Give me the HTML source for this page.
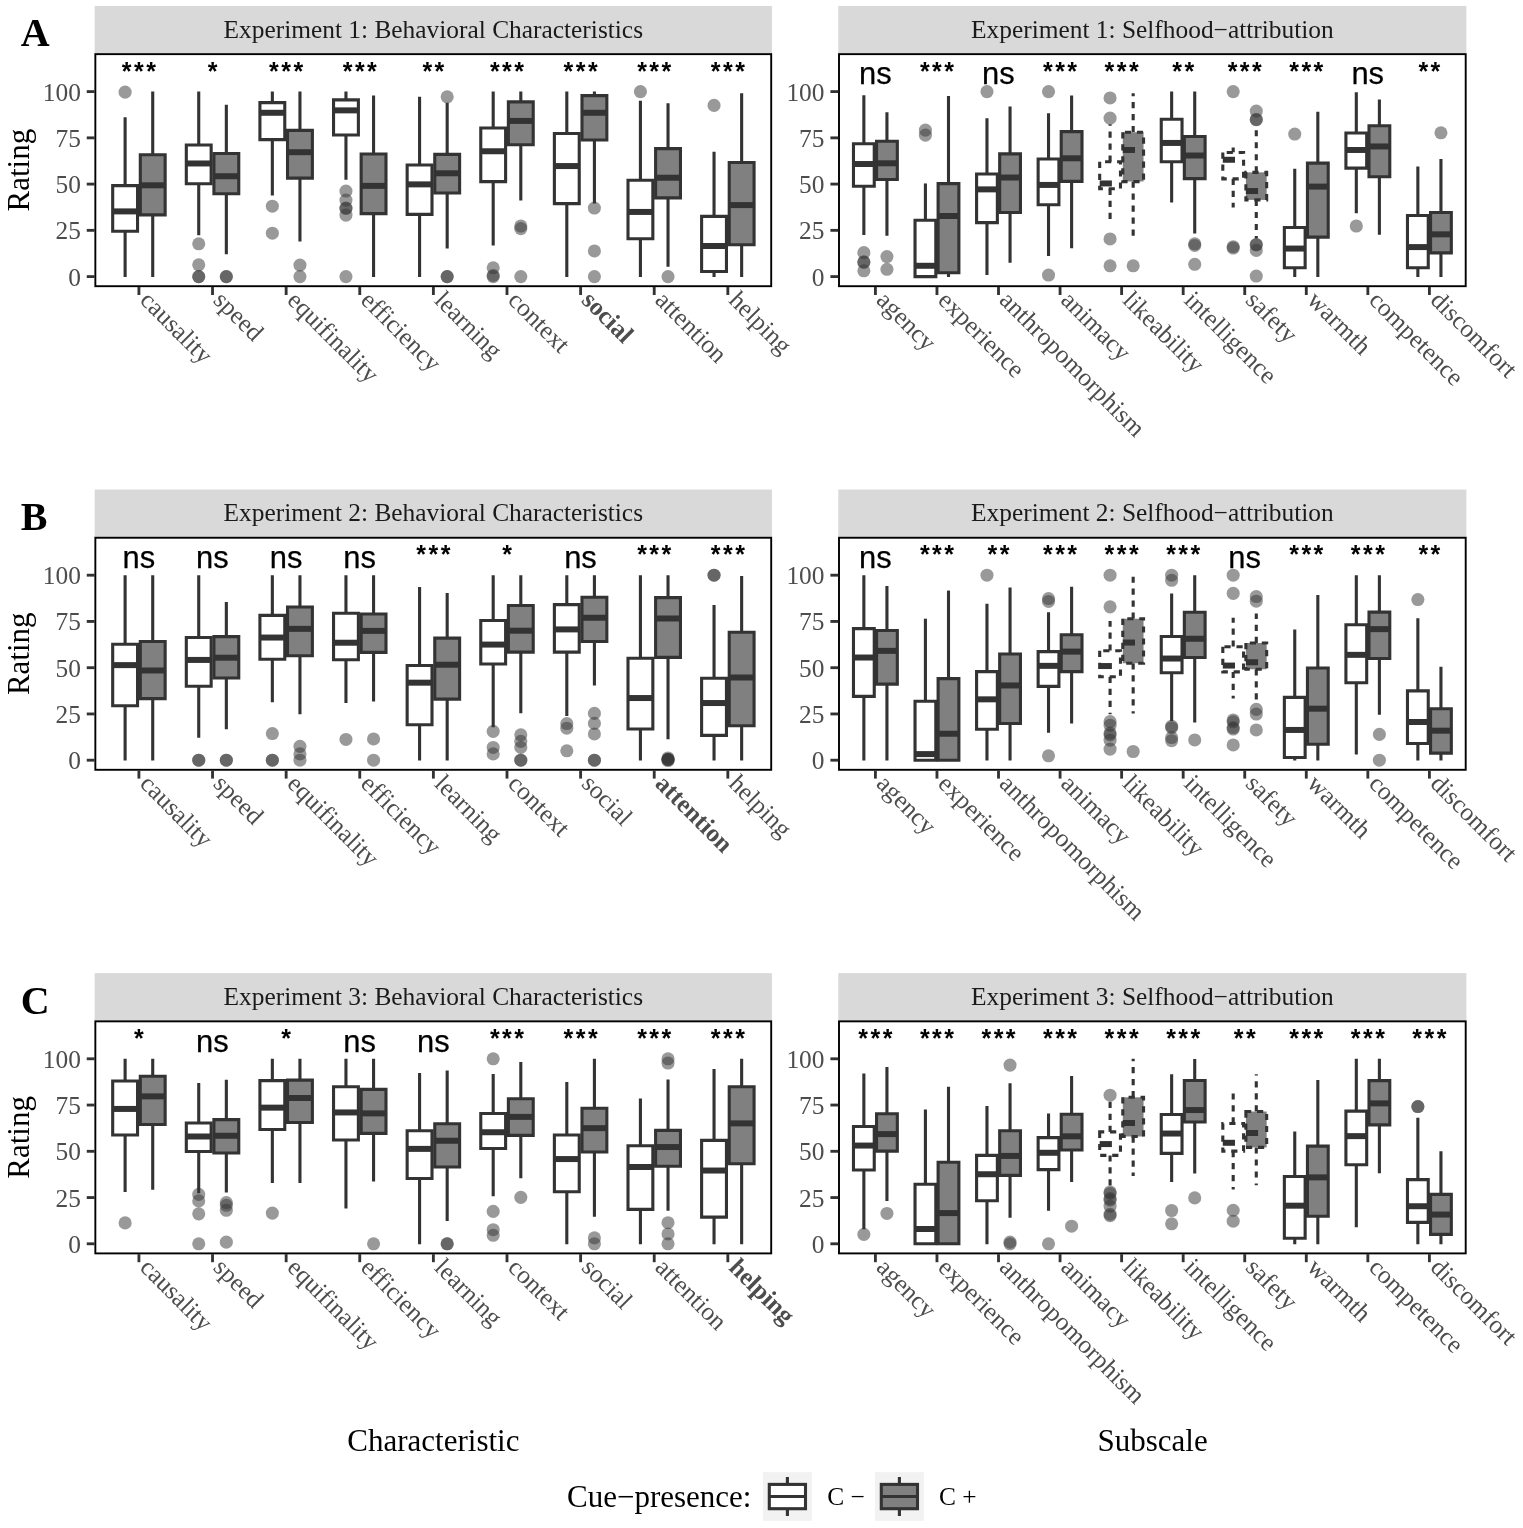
<!DOCTYPE html>
<html lang="en"><head><meta charset="utf-8"><title>Figure: ratings by cue-presence</title>
<style>
html,body{margin:0;padding:0;background:#fff;}
body{width:1523px;height:1528px;overflow:hidden;}
svg text{white-space:pre;}
</style></head><body>
<svg width="1523" height="1528" viewBox="0 0 1523 1528" style="display:block"><g id="A_left">
<rect x="94.65" y="5.95" width="677.25" height="48.2" fill="#d9d9d9"/>
<text x="433.28" y="37.7" text-anchor="middle" font-family="'Liberation Serif', 'DejaVu Serif', serif" font-size="25.4" fill="#1a1a1a">Experiment 1: Behavioral Characteristics</text>
<rect x="95.35" y="54.15" width="675.85" height="232.05" fill="#fff"/>
<circle cx="125.12" cy="92.16" r="6.55" fill="#333" fill-opacity="0.5"/><path d="M125.12 185.67V117.22M125.12 231.18V277" fill="none" stroke="#333333" stroke-width="3.1"/><path d="M112.69 185.67V231.18H137.54V185.67Z" fill="#ffffff" stroke="#333333" stroke-width="3.1" stroke-linejoin="miter"/><path d="M112.69 211.39H137.54" fill="none" stroke="#333333" stroke-width="6"/>
<path d="M152.72 154.78V91.6M152.72 214.9V277" fill="none" stroke="#333333" stroke-width="3.1"/><path d="M140.3 154.78V214.9H165.15V154.78Z" fill="#808080" stroke="#333333" stroke-width="3.1" stroke-linejoin="miter"/><path d="M140.3 185.3H165.15" fill="none" stroke="#333333" stroke-width="6"/>
<text x="140.14" y="79.55" text-anchor="middle" font-family="'Liberation Sans', 'DejaVu Sans', sans-serif" font-size="25" font-weight="bold" letter-spacing="2.45" fill="#000">***</text>
<circle cx="198.73" cy="243.76" r="6.55" fill="#333" fill-opacity="0.5"/><circle cx="198.73" cy="264.85" r="6.55" fill="#333" fill-opacity="0.5"/><circle cx="198.73" cy="276.6" r="6.55" fill="#333" fill-opacity="0.5"/><circle cx="198.73" cy="276.6" r="6.55" fill="#333" fill-opacity="0.5"/><path d="M198.73 144.97V91.6M198.73 183.82V235.28" fill="none" stroke="#333333" stroke-width="3.1"/><path d="M186.31 144.97V183.82H211.15V144.97Z" fill="#ffffff" stroke="#333333" stroke-width="3.1" stroke-linejoin="miter"/><path d="M186.31 163.47H211.15" fill="none" stroke="#333333" stroke-width="6"/>
<circle cx="226.34" cy="276.6" r="6.55" fill="#333" fill-opacity="0.5"/><circle cx="226.34" cy="276.6" r="6.55" fill="#333" fill-opacity="0.5"/><path d="M226.34 153.48V104.83M226.34 193.81V254.34" fill="none" stroke="#333333" stroke-width="3.1"/><path d="M213.92 153.48V193.81H238.76V153.48Z" fill="#808080" stroke="#333333" stroke-width="3.1" stroke-linejoin="miter"/><path d="M213.92 176.24H238.76" fill="none" stroke="#333333" stroke-width="6"/>
<text x="213.76" y="79.55" text-anchor="middle" font-family="'Liberation Sans', 'DejaVu Sans', sans-serif" font-size="25" font-weight="bold" letter-spacing="2.45" fill="#000">*</text>
<circle cx="272.35" cy="206.21" r="6.55" fill="#333" fill-opacity="0.5"/><circle cx="272.35" cy="233.22" r="6.55" fill="#333" fill-opacity="0.5"/><path d="M272.35 102.61V91.6M272.35 139.61V195.51" fill="none" stroke="#333333" stroke-width="3.1"/><path d="M259.92 102.61V139.61H284.77V102.61Z" fill="#ffffff" stroke="#333333" stroke-width="3.1" stroke-linejoin="miter"/><path d="M259.92 112.78H284.77" fill="none" stroke="#333333" stroke-width="6"/>
<circle cx="299.95" cy="265.04" r="6.55" fill="#333" fill-opacity="0.5"/><circle cx="299.95" cy="276.6" r="6.55" fill="#333" fill-opacity="0.5"/><path d="M299.95 130.36V91.6M299.95 178.09V241.57" fill="none" stroke="#333333" stroke-width="3.1"/><path d="M287.53 130.36V178.09H312.38V130.36Z" fill="#808080" stroke="#333333" stroke-width="3.1" stroke-linejoin="miter"/><path d="M287.53 152.19H312.38" fill="none" stroke="#333333" stroke-width="6"/>
<text x="287.37" y="79.55" text-anchor="middle" font-family="'Liberation Sans', 'DejaVu Sans', sans-serif" font-size="25" font-weight="bold" letter-spacing="2.45" fill="#000">***</text>
<circle cx="345.96" cy="191.04" r="6.55" fill="#333" fill-opacity="0.5"/><circle cx="345.96" cy="200.1" r="6.55" fill="#333" fill-opacity="0.5"/><circle cx="345.96" cy="208.06" r="6.55" fill="#333" fill-opacity="0.5"/><circle cx="345.96" cy="208.43" r="6.55" fill="#333" fill-opacity="0.5"/><circle cx="345.96" cy="215.09" r="6.55" fill="#333" fill-opacity="0.5"/><circle cx="345.96" cy="276.6" r="6.55" fill="#333" fill-opacity="0.5"/><path d="M345.96 99.83V91.6M345.96 134.98V179.78" fill="none" stroke="#333333" stroke-width="3.1"/><path d="M333.54 99.83V134.98H358.38V99.83Z" fill="#ffffff" stroke="#333333" stroke-width="3.1" stroke-linejoin="miter"/><path d="M333.54 110.38H358.38" fill="none" stroke="#333333" stroke-width="6"/>
<path d="M373.57 154.04V95.58M373.57 213.61V277" fill="none" stroke="#333333" stroke-width="3.1"/><path d="M361.15 154.04V213.61H385.99V154.04Z" fill="#808080" stroke="#333333" stroke-width="3.1" stroke-linejoin="miter"/><path d="M361.15 185.86H385.99" fill="none" stroke="#333333" stroke-width="6"/>
<text x="360.99" y="79.55" text-anchor="middle" font-family="'Liberation Sans', 'DejaVu Sans', sans-serif" font-size="25" font-weight="bold" letter-spacing="2.45" fill="#000">***</text>
<path d="M419.58 164.95V96.87M419.58 214.35V277" fill="none" stroke="#333333" stroke-width="3.1"/><path d="M407.15 164.95V214.35H432V164.95Z" fill="#ffffff" stroke="#333333" stroke-width="3.1" stroke-linejoin="miter"/><path d="M407.15 184.38H432" fill="none" stroke="#333333" stroke-width="6"/>
<circle cx="447.18" cy="96.87" r="6.55" fill="#333" fill-opacity="0.5"/><circle cx="447.18" cy="276.6" r="6.55" fill="#333" fill-opacity="0.5"/><circle cx="447.18" cy="276.6" r="6.55" fill="#333" fill-opacity="0.5"/><path d="M447.18 154.41V102.79M447.18 193.07V248.6" fill="none" stroke="#333333" stroke-width="3.1"/><path d="M434.76 154.41V193.07H459.61V154.41Z" fill="#808080" stroke="#333333" stroke-width="3.1" stroke-linejoin="miter"/><path d="M434.76 173.28H459.61" fill="none" stroke="#333333" stroke-width="6"/>
<text x="434.6" y="79.55" text-anchor="middle" font-family="'Liberation Sans', 'DejaVu Sans', sans-serif" font-size="25" font-weight="bold" letter-spacing="2.45" fill="#000">**</text>
<circle cx="493.19" cy="267.81" r="6.55" fill="#333" fill-opacity="0.5"/><circle cx="493.19" cy="275.49" r="6.55" fill="#333" fill-opacity="0.5"/><circle cx="493.19" cy="276.6" r="6.55" fill="#333" fill-opacity="0.5"/><path d="M493.19 127.95V91.6M493.19 181.6V245.46" fill="none" stroke="#333333" stroke-width="3.1"/><path d="M480.77 127.95V181.6H505.61V127.95Z" fill="#ffffff" stroke="#333333" stroke-width="3.1" stroke-linejoin="miter"/><path d="M480.77 151.26H505.61" fill="none" stroke="#333333" stroke-width="6"/>
<circle cx="520.8" cy="226" r="6.55" fill="#333" fill-opacity="0.5"/><circle cx="520.8" cy="228.59" r="6.55" fill="#333" fill-opacity="0.5"/><circle cx="520.8" cy="276.6" r="6.55" fill="#333" fill-opacity="0.5"/><path d="M520.8 101.87V91.6M520.8 144.79V200.5" fill="none" stroke="#333333" stroke-width="3.1"/><path d="M508.38 101.87V144.79H533.22V101.87Z" fill="#808080" stroke="#333333" stroke-width="3.1" stroke-linejoin="miter"/><path d="M508.38 120.92H533.22" fill="none" stroke="#333333" stroke-width="6"/>
<text x="508.22" y="79.55" text-anchor="middle" font-family="'Liberation Sans', 'DejaVu Sans', sans-serif" font-size="25" font-weight="bold" letter-spacing="2.45" fill="#000">***</text>
<path d="M566.81 133.5V91.6M566.81 203.62V277" fill="none" stroke="#333333" stroke-width="3.1"/><path d="M554.38 133.5V203.62H579.23V133.5Z" fill="#ffffff" stroke="#333333" stroke-width="3.1" stroke-linejoin="miter"/><path d="M554.38 166.06H579.23" fill="none" stroke="#333333" stroke-width="6"/>
<circle cx="594.41" cy="208.06" r="6.55" fill="#333" fill-opacity="0.5"/><circle cx="594.41" cy="250.98" r="6.55" fill="#333" fill-opacity="0.5"/><circle cx="594.41" cy="276.6" r="6.55" fill="#333" fill-opacity="0.5"/><path d="M594.41 95.58V91.6M594.41 139.98V203.46" fill="none" stroke="#333333" stroke-width="3.1"/><path d="M581.99 95.58V139.98H606.84V95.58Z" fill="#808080" stroke="#333333" stroke-width="3.1" stroke-linejoin="miter"/><path d="M581.99 112.78H606.84" fill="none" stroke="#333333" stroke-width="6"/>
<text x="581.83" y="79.55" text-anchor="middle" font-family="'Liberation Sans', 'DejaVu Sans', sans-serif" font-size="25" font-weight="bold" letter-spacing="2.45" fill="#000">***</text>
<circle cx="640.42" cy="91.6" r="6.55" fill="#333" fill-opacity="0.5"/><path d="M640.42 180.31V100.76M640.42 238.77V277" fill="none" stroke="#333333" stroke-width="3.1"/><path d="M628 180.31V238.77H652.84V180.31Z" fill="#ffffff" stroke="#333333" stroke-width="3.1" stroke-linejoin="miter"/><path d="M628 211.94H652.84" fill="none" stroke="#333333" stroke-width="6"/>
<circle cx="668.03" cy="276.6" r="6.55" fill="#333" fill-opacity="0.5"/><path d="M668.03 148.67V103.16M668.03 197.88V266.73" fill="none" stroke="#333333" stroke-width="3.1"/><path d="M655.61 148.67V197.88H680.45V148.67Z" fill="#808080" stroke="#333333" stroke-width="3.1" stroke-linejoin="miter"/><path d="M655.61 177.72H680.45" fill="none" stroke="#333333" stroke-width="6"/>
<text x="655.45" y="79.55" text-anchor="middle" font-family="'Liberation Sans', 'DejaVu Sans', sans-serif" font-size="25" font-weight="bold" letter-spacing="2.45" fill="#000">***</text>
<circle cx="714.04" cy="105.38" r="6.55" fill="#333" fill-opacity="0.5"/><path d="M714.04 216.38V151.63M714.04 271.51V277" fill="none" stroke="#333333" stroke-width="3.1"/><path d="M701.61 216.38V271.51H726.46V216.38Z" fill="#ffffff" stroke="#333333" stroke-width="3.1" stroke-linejoin="miter"/><path d="M701.61 245.98H726.46" fill="none" stroke="#333333" stroke-width="6"/>
<path d="M741.64 162.55V93.36M741.64 244.69V277" fill="none" stroke="#333333" stroke-width="3.1"/><path d="M729.22 162.55V244.69H754.07V162.55Z" fill="#808080" stroke="#333333" stroke-width="3.1" stroke-linejoin="miter"/><path d="M729.22 205.1H754.07" fill="none" stroke="#333333" stroke-width="6"/>
<text x="729.06" y="79.55" text-anchor="middle" font-family="'Liberation Sans', 'DejaVu Sans', sans-serif" font-size="25" font-weight="bold" letter-spacing="2.45" fill="#000">***</text>
<rect x="95.35" y="54.15" width="675.85" height="232.05" fill="none" stroke="#000" stroke-width="1.9"/>
<path d="M86.75 276.6H94.65" stroke="#333333" stroke-width="2.85"/>
<text x="80.85" y="285.6" text-anchor="end" font-family="'Liberation Serif', 'DejaVu Serif', serif" font-size="25.4" fill="#4d4d4d">0</text>
<path d="M86.75 230.35H94.65" stroke="#333333" stroke-width="2.85"/>
<text x="80.85" y="239.35" text-anchor="end" font-family="'Liberation Serif', 'DejaVu Serif', serif" font-size="25.4" fill="#4d4d4d">25</text>
<path d="M86.75 184.1H94.65" stroke="#333333" stroke-width="2.85"/>
<text x="80.85" y="193.1" text-anchor="end" font-family="'Liberation Serif', 'DejaVu Serif', serif" font-size="25.4" fill="#4d4d4d">50</text>
<path d="M86.75 137.85H94.65" stroke="#333333" stroke-width="2.85"/>
<text x="80.85" y="146.85" text-anchor="end" font-family="'Liberation Serif', 'DejaVu Serif', serif" font-size="25.4" fill="#4d4d4d">75</text>
<path d="M86.75 91.6H94.65" stroke="#333333" stroke-width="2.85"/>
<text x="80.85" y="100.6" text-anchor="end" font-family="'Liberation Serif', 'DejaVu Serif', serif" font-size="25.4" fill="#4d4d4d">100</text>
<path d="M138.92 286.9V295" stroke="#333333" stroke-width="2.85"/>
<text transform="translate(138.72 301.5) rotate(45)" font-family="'Liberation Serif', 'DejaVu Serif', serif" font-size="25.4" fill="#4d4d4d">causality</text>
<path d="M212.53 286.9V295" stroke="#333333" stroke-width="2.85"/>
<text transform="translate(212.33 301.5) rotate(45)" font-family="'Liberation Serif', 'DejaVu Serif', serif" font-size="25.4" fill="#4d4d4d">speed</text>
<path d="M286.15 286.9V295" stroke="#333333" stroke-width="2.85"/>
<text transform="translate(285.95 301.5) rotate(45)" font-family="'Liberation Serif', 'DejaVu Serif', serif" font-size="25.4" fill="#4d4d4d">equifinality</text>
<path d="M359.76 286.9V295" stroke="#333333" stroke-width="2.85"/>
<text transform="translate(359.56 301.5) rotate(45)" font-family="'Liberation Serif', 'DejaVu Serif', serif" font-size="25.4" fill="#4d4d4d">efficiency</text>
<path d="M433.38 286.9V295" stroke="#333333" stroke-width="2.85"/>
<text transform="translate(433.18 301.5) rotate(45)" font-family="'Liberation Serif', 'DejaVu Serif', serif" font-size="25.4" fill="#4d4d4d">learning</text>
<path d="M507 286.9V295" stroke="#333333" stroke-width="2.85"/>
<text transform="translate(506.8 301.5) rotate(45)" font-family="'Liberation Serif', 'DejaVu Serif', serif" font-size="25.4" fill="#4d4d4d">context</text>
<path d="M580.61 286.9V295" stroke="#333333" stroke-width="2.85"/>
<text transform="translate(580.41 301.5) rotate(45)" font-family="'Liberation Serif', 'DejaVu Serif', serif" font-size="25.4" fill="#4d4d4d" font-weight="bold">social</text>
<path d="M654.22 286.9V295" stroke="#333333" stroke-width="2.85"/>
<text transform="translate(654.02 301.5) rotate(45)" font-family="'Liberation Serif', 'DejaVu Serif', serif" font-size="25.4" fill="#4d4d4d">attention</text>
<path d="M727.84 286.9V295" stroke="#333333" stroke-width="2.85"/>
<text transform="translate(727.64 301.5) rotate(45)" font-family="'Liberation Serif', 'DejaVu Serif', serif" font-size="25.4" fill="#4d4d4d">helping</text>
<text transform="translate(28.6 170.18) rotate(-90)" text-anchor="middle" font-family="'Liberation Serif', 'DejaVu Serif', serif" font-size="31" fill="#000">Rating</text>
<text x="20.7" y="45.95" font-family="'Liberation Serif', 'DejaVu Serif', serif" font-size="40" font-weight="bold" fill="#000">A</text>
</g>
<g id="A_right">
<rect x="838.3" y="5.95" width="628.1" height="48.2" fill="#d9d9d9"/>
<text x="1152.35" y="37.7" text-anchor="middle" font-family="'Liberation Serif', 'DejaVu Serif', serif" font-size="25.4" fill="#1a1a1a">Experiment 1: Selfhood−attribution</text>
<rect x="839" y="54.15" width="626.7" height="232.05" fill="#fff"/>
<circle cx="863.86" cy="252.64" r="6.55" fill="#333" fill-opacity="0.5"/><circle cx="863.86" cy="261.89" r="6.55" fill="#333" fill-opacity="0.5"/><circle cx="863.86" cy="262.26" r="6.55" fill="#333" fill-opacity="0.5"/><circle cx="863.86" cy="270.77" r="6.55" fill="#333" fill-opacity="0.5"/><path d="M863.86 143.68V95.21M863.86 186.23V235.1" fill="none" stroke="#333333" stroke-width="3.1"/><path d="M853.47 143.68V186.23H874.25V143.68Z" fill="#ffffff" stroke="#333333" stroke-width="3.1" stroke-linejoin="miter"/><path d="M853.47 164.03H874.25" fill="none" stroke="#333333" stroke-width="6"/>
<circle cx="886.94" cy="256.53" r="6.55" fill="#333" fill-opacity="0.5"/><circle cx="886.94" cy="269.29" r="6.55" fill="#333" fill-opacity="0.5"/><path d="M886.94 141.27V112.23M886.94 179.57V235.84" fill="none" stroke="#333333" stroke-width="3.1"/><path d="M876.55 141.27V179.57H897.33V141.27Z" fill="#808080" stroke="#333333" stroke-width="3.1" stroke-linejoin="miter"/><path d="M876.55 163.29H897.33" fill="none" stroke="#333333" stroke-width="6"/>
<text x="875.3" y="84.45" text-anchor="middle" font-family="'Liberation Sans', 'DejaVu Sans', sans-serif" font-size="30.9" fill="#000" stroke="#000" stroke-width="0.25">ns</text>
<circle cx="925.41" cy="130.17" r="6.55" fill="#333" fill-opacity="0.5"/><circle cx="925.41" cy="135.17" r="6.55" fill="#333" fill-opacity="0.5"/><path d="M925.41 220.27V183.45M925.41 276.6V276.6" fill="none" stroke="#333333" stroke-width="3.1"/><path d="M915.03 220.27V276.6H935.8V220.27Z" fill="#ffffff" stroke="#333333" stroke-width="3.1" stroke-linejoin="miter"/><path d="M915.03 265.78H935.8" fill="none" stroke="#333333" stroke-width="6"/>
<path d="M948.5 183.64V95.95M948.5 272.81V277" fill="none" stroke="#333333" stroke-width="3.1"/><path d="M938.11 183.64V272.81H958.89V183.64Z" fill="#808080" stroke="#333333" stroke-width="3.1" stroke-linejoin="miter"/><path d="M938.11 216.01H958.89" fill="none" stroke="#333333" stroke-width="6"/>
<text x="938.18" y="79.55" text-anchor="middle" font-family="'Liberation Sans', 'DejaVu Sans', sans-serif" font-size="25" font-weight="bold" letter-spacing="2.45" fill="#000">***</text>
<circle cx="986.97" cy="91.6" r="6.55" fill="#333" fill-opacity="0.5"/><path d="M986.97 174.02V118.15M986.97 222.67V275.06" fill="none" stroke="#333333" stroke-width="3.1"/><path d="M976.58 174.02V222.67H997.36V174.02Z" fill="#ffffff" stroke="#333333" stroke-width="3.1" stroke-linejoin="miter"/><path d="M976.58 189.37H997.36" fill="none" stroke="#333333" stroke-width="6"/>
<path d="M1010.05 153.85V106.49M1010.05 212.5V262.66" fill="none" stroke="#333333" stroke-width="3.1"/><path d="M999.67 153.85V212.5H1020.44V153.85Z" fill="#808080" stroke="#333333" stroke-width="3.1" stroke-linejoin="miter"/><path d="M999.67 177.53H1020.44" fill="none" stroke="#333333" stroke-width="6"/>
<text x="998.41" y="84.45" text-anchor="middle" font-family="'Liberation Sans', 'DejaVu Sans', sans-serif" font-size="30.9" fill="#000" stroke="#000" stroke-width="0.25">ns</text>
<circle cx="1048.53" cy="91.6" r="6.55" fill="#333" fill-opacity="0.5"/><circle cx="1048.53" cy="275.03" r="6.55" fill="#333" fill-opacity="0.5"/><path d="M1048.53 159.03V113.15M1048.53 204.73V256" fill="none" stroke="#333333" stroke-width="3.1"/><path d="M1038.14 159.03V204.73H1058.91V159.03Z" fill="#ffffff" stroke="#333333" stroke-width="3.1" stroke-linejoin="miter"/><path d="M1038.14 184.93H1058.91" fill="none" stroke="#333333" stroke-width="6"/>
<path d="M1071.61 131.65V95.58M1071.61 181.42V248.23" fill="none" stroke="#333333" stroke-width="3.1"/><path d="M1061.22 131.65V181.42H1082V131.65Z" fill="#808080" stroke="#333333" stroke-width="3.1" stroke-linejoin="miter"/><path d="M1061.22 158.29H1082" fill="none" stroke="#333333" stroke-width="6"/>
<text x="1061.29" y="79.55" text-anchor="middle" font-family="'Liberation Sans', 'DejaVu Sans', sans-serif" font-size="25" font-weight="bold" letter-spacing="2.45" fill="#000">***</text>
<circle cx="1110.08" cy="97.98" r="6.55" fill="#333" fill-opacity="0.5"/><circle cx="1110.08" cy="118.15" r="6.55" fill="#333" fill-opacity="0.5"/><circle cx="1110.08" cy="238.95" r="6.55" fill="#333" fill-opacity="0.5"/><circle cx="1110.08" cy="265.78" r="6.55" fill="#333" fill-opacity="0.5"/><path d="M1110.08 161.81V124.25M1110.08 188.82V220.11" fill="none" stroke="#333333" stroke-width="3.1" stroke-dasharray="6.2 5.8"/><path d="M1099.69 161.81V188.82H1120.47V161.81Z" fill="#ffffff" stroke="#333333" stroke-width="3.1" stroke-linejoin="miter" stroke-dasharray="6.2 5.8"/><path d="M1099.69 183.45H1120.47" fill="none" stroke="#333333" stroke-width="6" stroke-dasharray="12.2 11.8"/>
<circle cx="1133.17" cy="265.78" r="6.55" fill="#333" fill-opacity="0.5"/><path d="M1133.17 132.21V93.36M1133.17 181.6V236.58" fill="none" stroke="#333333" stroke-width="3.1" stroke-dasharray="6.2 5.8"/><path d="M1122.78 132.21V181.6H1143.55V132.21Z" fill="#808080" stroke="#333333" stroke-width="3.1" stroke-linejoin="miter" stroke-dasharray="6.2 5.8"/><path d="M1122.78 149.97H1143.55" fill="none" stroke="#333333" stroke-width="6" stroke-dasharray="12.2 11.8"/>
<text x="1122.85" y="79.55" text-anchor="middle" font-family="'Liberation Sans', 'DejaVu Sans', sans-serif" font-size="25" font-weight="bold" letter-spacing="2.45" fill="#000">***</text>
<path d="M1171.64 119.26V91.6M1171.64 161.81V202.54" fill="none" stroke="#333333" stroke-width="3.1"/><path d="M1161.25 119.26V161.81H1182.03V119.26Z" fill="#ffffff" stroke="#333333" stroke-width="3.1" stroke-linejoin="miter"/><path d="M1161.25 142.94H1182.03" fill="none" stroke="#333333" stroke-width="6"/>
<circle cx="1194.72" cy="243.76" r="6.55" fill="#333" fill-opacity="0.5"/><circle cx="1194.72" cy="245.43" r="6.55" fill="#333" fill-opacity="0.5"/><circle cx="1194.72" cy="264.3" r="6.55" fill="#333" fill-opacity="0.5"/><path d="M1194.72 136.46V91.6M1194.72 178.64V233.62" fill="none" stroke="#333333" stroke-width="3.1"/><path d="M1184.33 136.46V178.64H1205.11V136.46Z" fill="#808080" stroke="#333333" stroke-width="3.1" stroke-linejoin="miter"/><path d="M1184.33 155.52H1205.11" fill="none" stroke="#333333" stroke-width="6"/>
<text x="1184.4" y="79.55" text-anchor="middle" font-family="'Liberation Sans', 'DejaVu Sans', sans-serif" font-size="25" font-weight="bold" letter-spacing="2.45" fill="#000">**</text>
<circle cx="1233.19" cy="91.6" r="6.55" fill="#333" fill-opacity="0.5"/><circle cx="1233.19" cy="246.72" r="6.55" fill="#333" fill-opacity="0.5"/><circle cx="1233.19" cy="248.02" r="6.55" fill="#333" fill-opacity="0.5"/><path d="M1233.19 152.56V147.38M1233.19 178.83V207.53" fill="none" stroke="#333333" stroke-width="3.1" stroke-dasharray="6.2 5.8"/><path d="M1222.81 152.56V178.83H1243.58V152.56Z" fill="#ffffff" stroke="#333333" stroke-width="3.1" stroke-linejoin="miter" stroke-dasharray="6.2 5.8"/><path d="M1222.81 159.77H1243.58" fill="none" stroke="#333333" stroke-width="6" stroke-dasharray="12.2 11.8"/>
<circle cx="1256.28" cy="111.12" r="6.55" fill="#333" fill-opacity="0.5"/><circle cx="1256.28" cy="119.44" r="6.55" fill="#333" fill-opacity="0.5"/><circle cx="1256.28" cy="119.81" r="6.55" fill="#333" fill-opacity="0.5"/><circle cx="1256.28" cy="244.5" r="6.55" fill="#333" fill-opacity="0.5"/><circle cx="1256.28" cy="244.87" r="6.55" fill="#333" fill-opacity="0.5"/><circle cx="1256.28" cy="250.42" r="6.55" fill="#333" fill-opacity="0.5"/><circle cx="1256.28" cy="276.05" r="6.55" fill="#333" fill-opacity="0.5"/><path d="M1256.28 172.35V129.62M1256.28 199.92V238.43" fill="none" stroke="#333333" stroke-width="3.1" stroke-dasharray="6.2 5.8"/><path d="M1245.89 172.35V199.92H1266.67V172.35Z" fill="#808080" stroke="#333333" stroke-width="3.1" stroke-linejoin="miter" stroke-dasharray="6.2 5.8"/><path d="M1245.89 191.04H1266.67" fill="none" stroke="#333333" stroke-width="6" stroke-dasharray="12.2 11.8"/>
<text x="1245.96" y="79.55" text-anchor="middle" font-family="'Liberation Sans', 'DejaVu Sans', sans-serif" font-size="25" font-weight="bold" letter-spacing="2.45" fill="#000">***</text>
<circle cx="1294.75" cy="134.06" r="6.55" fill="#333" fill-opacity="0.5"/><path d="M1294.75 227.48V168.84M1294.75 267.81V277" fill="none" stroke="#333333" stroke-width="3.1"/><path d="M1284.36 227.48V267.81H1305.14V227.48Z" fill="#ffffff" stroke="#333333" stroke-width="3.1" stroke-linejoin="miter"/><path d="M1284.36 248.57H1305.14" fill="none" stroke="#333333" stroke-width="6"/>
<path d="M1317.83 163.1V111.67M1317.83 237.1V277" fill="none" stroke="#333333" stroke-width="3.1"/><path d="M1307.45 163.1V237.1H1328.22V163.1Z" fill="#808080" stroke="#333333" stroke-width="3.1" stroke-linejoin="miter"/><path d="M1307.45 186.6H1328.22" fill="none" stroke="#333333" stroke-width="6"/>
<text x="1307.51" y="79.55" text-anchor="middle" font-family="'Liberation Sans', 'DejaVu Sans', sans-serif" font-size="25" font-weight="bold" letter-spacing="2.45" fill="#000">***</text>
<circle cx="1356.31" cy="226" r="6.55" fill="#333" fill-opacity="0.5"/><path d="M1356.31 132.95V92.34M1356.31 168.1V213.27" fill="none" stroke="#333333" stroke-width="3.1"/><path d="M1345.92 132.95V168.1H1366.69V132.95Z" fill="#ffffff" stroke="#333333" stroke-width="3.1" stroke-linejoin="miter"/><path d="M1345.92 149.97H1366.69" fill="none" stroke="#333333" stroke-width="6"/>
<path d="M1379.39 125.73V99.46M1379.39 176.79V234.73" fill="none" stroke="#333333" stroke-width="3.1"/><path d="M1369 125.73V176.79H1389.78V125.73Z" fill="#808080" stroke="#333333" stroke-width="3.1" stroke-linejoin="miter"/><path d="M1369 146.45H1389.78" fill="none" stroke="#333333" stroke-width="6"/>
<text x="1367.75" y="84.45" text-anchor="middle" font-family="'Liberation Sans', 'DejaVu Sans', sans-serif" font-size="30.9" fill="#000" stroke="#000" stroke-width="0.25">ns</text>
<path d="M1417.86 215.46V166.62M1417.86 267.81V277" fill="none" stroke="#333333" stroke-width="3.1"/><path d="M1407.47 215.46V267.81H1428.25V215.46Z" fill="#ffffff" stroke="#333333" stroke-width="3.1" stroke-linejoin="miter"/><path d="M1407.47 247.09H1428.25" fill="none" stroke="#333333" stroke-width="6"/>
<circle cx="1440.95" cy="132.76" r="6.55" fill="#333" fill-opacity="0.5"/><path d="M1440.95 212.5V159.03M1440.95 252.83V277" fill="none" stroke="#333333" stroke-width="3.1"/><path d="M1430.56 212.5V252.83H1451.33V212.5Z" fill="#808080" stroke="#333333" stroke-width="3.1" stroke-linejoin="miter"/><path d="M1430.56 234.33H1451.33" fill="none" stroke="#333333" stroke-width="6"/>
<text x="1430.63" y="79.55" text-anchor="middle" font-family="'Liberation Sans', 'DejaVu Sans', sans-serif" font-size="25" font-weight="bold" letter-spacing="2.45" fill="#000">**</text>
<rect x="839" y="54.15" width="626.7" height="232.05" fill="none" stroke="#000" stroke-width="1.9"/>
<path d="M830.4 276.6H838.3" stroke="#333333" stroke-width="2.85"/>
<text x="824.5" y="285.6" text-anchor="end" font-family="'Liberation Serif', 'DejaVu Serif', serif" font-size="25.4" fill="#4d4d4d">0</text>
<path d="M830.4 230.35H838.3" stroke="#333333" stroke-width="2.85"/>
<text x="824.5" y="239.35" text-anchor="end" font-family="'Liberation Serif', 'DejaVu Serif', serif" font-size="25.4" fill="#4d4d4d">25</text>
<path d="M830.4 184.1H838.3" stroke="#333333" stroke-width="2.85"/>
<text x="824.5" y="193.1" text-anchor="end" font-family="'Liberation Serif', 'DejaVu Serif', serif" font-size="25.4" fill="#4d4d4d">50</text>
<path d="M830.4 137.85H838.3" stroke="#333333" stroke-width="2.85"/>
<text x="824.5" y="146.85" text-anchor="end" font-family="'Liberation Serif', 'DejaVu Serif', serif" font-size="25.4" fill="#4d4d4d">75</text>
<path d="M830.4 91.6H838.3" stroke="#333333" stroke-width="2.85"/>
<text x="824.5" y="100.6" text-anchor="end" font-family="'Liberation Serif', 'DejaVu Serif', serif" font-size="25.4" fill="#4d4d4d">100</text>
<path d="M875.4 286.9V295" stroke="#333333" stroke-width="2.85"/>
<text transform="translate(875.2 301.5) rotate(45)" font-family="'Liberation Serif', 'DejaVu Serif', serif" font-size="25.4" fill="#4d4d4d">agency</text>
<path d="M936.96 286.9V295" stroke="#333333" stroke-width="2.85"/>
<text transform="translate(936.76 301.5) rotate(45)" font-family="'Liberation Serif', 'DejaVu Serif', serif" font-size="25.4" fill="#4d4d4d">experience</text>
<path d="M998.51 286.9V295" stroke="#333333" stroke-width="2.85"/>
<text transform="translate(998.31 301.5) rotate(45)" font-family="'Liberation Serif', 'DejaVu Serif', serif" font-size="25.4" fill="#4d4d4d">anthropomorphism</text>
<path d="M1060.07 286.9V295" stroke="#333333" stroke-width="2.85"/>
<text transform="translate(1059.87 301.5) rotate(45)" font-family="'Liberation Serif', 'DejaVu Serif', serif" font-size="25.4" fill="#4d4d4d">animacy</text>
<path d="M1121.62 286.9V295" stroke="#333333" stroke-width="2.85"/>
<text transform="translate(1121.42 301.5) rotate(45)" font-family="'Liberation Serif', 'DejaVu Serif', serif" font-size="25.4" fill="#4d4d4d">likeability</text>
<path d="M1183.18 286.9V295" stroke="#333333" stroke-width="2.85"/>
<text transform="translate(1182.98 301.5) rotate(45)" font-family="'Liberation Serif', 'DejaVu Serif', serif" font-size="25.4" fill="#4d4d4d">intelligence</text>
<path d="M1244.74 286.9V295" stroke="#333333" stroke-width="2.85"/>
<text transform="translate(1244.54 301.5) rotate(45)" font-family="'Liberation Serif', 'DejaVu Serif', serif" font-size="25.4" fill="#4d4d4d">safety</text>
<path d="M1306.29 286.9V295" stroke="#333333" stroke-width="2.85"/>
<text transform="translate(1306.09 301.5) rotate(45)" font-family="'Liberation Serif', 'DejaVu Serif', serif" font-size="25.4" fill="#4d4d4d">warmth</text>
<path d="M1367.85 286.9V295" stroke="#333333" stroke-width="2.85"/>
<text transform="translate(1367.65 301.5) rotate(45)" font-family="'Liberation Serif', 'DejaVu Serif', serif" font-size="25.4" fill="#4d4d4d">competence</text>
<path d="M1429.4 286.9V295" stroke="#333333" stroke-width="2.85"/>
<text transform="translate(1429.2 301.5) rotate(45)" font-family="'Liberation Serif', 'DejaVu Serif', serif" font-size="25.4" fill="#4d4d4d">discomfort</text>
</g>
<g id="B_left">
<rect x="94.65" y="489.55" width="677.25" height="48.2" fill="#d9d9d9"/>
<text x="433.28" y="521.3" text-anchor="middle" font-family="'Liberation Serif', 'DejaVu Serif', serif" font-size="25.4" fill="#1a1a1a">Experiment 2: Behavioral Characteristics</text>
<rect x="95.35" y="537.75" width="675.85" height="232.05" fill="#fff"/>
<path d="M125.12 644.21V575.2M125.12 705.81V760.6" fill="none" stroke="#333333" stroke-width="3.1"/><path d="M112.69 644.21V705.81H137.54V644.21Z" fill="#ffffff" stroke="#333333" stroke-width="3.1" stroke-linejoin="miter"/><path d="M112.69 665.11H137.54" fill="none" stroke="#333333" stroke-width="6"/>
<path d="M152.72 641.43V575.2M152.72 698.6V760.6" fill="none" stroke="#333333" stroke-width="3.1"/><path d="M140.3 641.43V698.6H165.15V641.43Z" fill="#808080" stroke="#333333" stroke-width="3.1" stroke-linejoin="miter"/><path d="M140.3 670.48H165.15" fill="none" stroke="#333333" stroke-width="6"/>
<text x="138.82" y="568.05" text-anchor="middle" font-family="'Liberation Sans', 'DejaVu Sans', sans-serif" font-size="30.9" fill="#000" stroke="#000" stroke-width="0.25">ns</text>
<circle cx="198.73" cy="760.2" r="6.55" fill="#333" fill-opacity="0.5"/><circle cx="198.73" cy="760.2" r="6.55" fill="#333" fill-opacity="0.5"/><path d="M198.73 637.55V575.2M198.73 686.2V737.85" fill="none" stroke="#333333" stroke-width="3.1"/><path d="M186.31 637.55V686.2H211.15V637.55Z" fill="#ffffff" stroke="#333333" stroke-width="3.1" stroke-linejoin="miter"/><path d="M186.31 659.93H211.15" fill="none" stroke="#333333" stroke-width="6"/>
<circle cx="226.34" cy="760.2" r="6.55" fill="#333" fill-opacity="0.5"/><circle cx="226.34" cy="760.2" r="6.55" fill="#333" fill-opacity="0.5"/><path d="M226.34 636.62V602.03M226.34 678.06V729.15" fill="none" stroke="#333333" stroke-width="3.1"/><path d="M213.92 636.62V678.06H238.76V636.62Z" fill="#808080" stroke="#333333" stroke-width="3.1" stroke-linejoin="miter"/><path d="M213.92 657.71H238.76" fill="none" stroke="#333333" stroke-width="6"/>
<text x="212.43" y="568.05" text-anchor="middle" font-family="'Liberation Sans', 'DejaVu Sans', sans-serif" font-size="30.9" fill="#000" stroke="#000" stroke-width="0.25">ns</text>
<circle cx="272.35" cy="733.56" r="6.55" fill="#333" fill-opacity="0.5"/><circle cx="272.35" cy="760.2" r="6.55" fill="#333" fill-opacity="0.5"/><circle cx="272.35" cy="760.2" r="6.55" fill="#333" fill-opacity="0.5"/><path d="M272.35 615.35V575.2M272.35 659.19V702.14" fill="none" stroke="#333333" stroke-width="3.1"/><path d="M259.92 615.35V659.19H284.77V615.35Z" fill="#ffffff" stroke="#333333" stroke-width="3.1" stroke-linejoin="miter"/><path d="M259.92 637.55H284.77" fill="none" stroke="#333333" stroke-width="6"/>
<circle cx="299.95" cy="746.33" r="6.55" fill="#333" fill-opacity="0.5"/><circle cx="299.95" cy="753.91" r="6.55" fill="#333" fill-opacity="0.5"/><circle cx="299.95" cy="760.2" r="6.55" fill="#333" fill-opacity="0.5"/><path d="M299.95 607.02V575.2M299.95 655.68V714.35" fill="none" stroke="#333333" stroke-width="3.1"/><path d="M287.53 607.02V655.68H312.38V607.02Z" fill="#808080" stroke="#333333" stroke-width="3.1" stroke-linejoin="miter"/><path d="M287.53 628.85H312.38" fill="none" stroke="#333333" stroke-width="6"/>
<text x="286.05" y="568.05" text-anchor="middle" font-family="'Liberation Sans', 'DejaVu Sans', sans-serif" font-size="30.9" fill="#000" stroke="#000" stroke-width="0.25">ns</text>
<circle cx="345.96" cy="739.48" r="6.55" fill="#333" fill-opacity="0.5"/><path d="M345.96 613.31V575.2M345.96 659.75V702.88" fill="none" stroke="#333333" stroke-width="3.1"/><path d="M333.54 613.31V659.75H358.38V613.31Z" fill="#ffffff" stroke="#333333" stroke-width="3.1" stroke-linejoin="miter"/><path d="M333.54 642.73H358.38" fill="none" stroke="#333333" stroke-width="6"/>
<circle cx="373.57" cy="738.93" r="6.55" fill="#333" fill-opacity="0.5"/><circle cx="373.57" cy="760.2" r="6.55" fill="#333" fill-opacity="0.5"/><path d="M373.57 614.05V575.2M373.57 652.35V701.4" fill="none" stroke="#333333" stroke-width="3.1"/><path d="M361.15 614.05V652.35H385.99V614.05Z" fill="#808080" stroke="#333333" stroke-width="3.1" stroke-linejoin="miter"/><path d="M361.15 630.88H385.99" fill="none" stroke="#333333" stroke-width="6"/>
<text x="359.66" y="568.05" text-anchor="middle" font-family="'Liberation Sans', 'DejaVu Sans', sans-serif" font-size="30.9" fill="#000" stroke="#000" stroke-width="0.25">ns</text>
<path d="M419.58 665.48V587.04M419.58 724.68V760.6" fill="none" stroke="#333333" stroke-width="3.1"/><path d="M407.15 665.48V724.68H432V665.48Z" fill="#ffffff" stroke="#333333" stroke-width="3.1" stroke-linejoin="miter"/><path d="M407.15 682.69H432" fill="none" stroke="#333333" stroke-width="6"/>
<path d="M447.18 638.1V592.96M447.18 699.15V760.6" fill="none" stroke="#333333" stroke-width="3.1"/><path d="M434.76 638.1V699.15H459.61V638.1Z" fill="#808080" stroke="#333333" stroke-width="3.1" stroke-linejoin="miter"/><path d="M434.76 664.74H459.61" fill="none" stroke="#333333" stroke-width="6"/>
<text x="434.6" y="563.15" text-anchor="middle" font-family="'Liberation Sans', 'DejaVu Sans', sans-serif" font-size="25" font-weight="bold" letter-spacing="2.45" fill="#000">***</text>
<circle cx="493.19" cy="731.34" r="6.55" fill="#333" fill-opacity="0.5"/><circle cx="493.19" cy="747.44" r="6.55" fill="#333" fill-opacity="0.5"/><circle cx="493.19" cy="753.91" r="6.55" fill="#333" fill-opacity="0.5"/><path d="M493.19 620.53V575.2M493.19 664V727.3" fill="none" stroke="#333333" stroke-width="3.1"/><path d="M480.77 620.53V664H505.61V620.53Z" fill="#ffffff" stroke="#333333" stroke-width="3.1" stroke-linejoin="miter"/><path d="M480.77 644.58H505.61" fill="none" stroke="#333333" stroke-width="6"/>
<circle cx="520.8" cy="734.86" r="6.55" fill="#333" fill-opacity="0.5"/><circle cx="520.8" cy="741.33" r="6.55" fill="#333" fill-opacity="0.5"/><circle cx="520.8" cy="747.44" r="6.55" fill="#333" fill-opacity="0.5"/><circle cx="520.8" cy="760.2" r="6.55" fill="#333" fill-opacity="0.5"/><circle cx="520.8" cy="760.2" r="6.55" fill="#333" fill-opacity="0.5"/><path d="M520.8 605.54V575.2M520.8 652.16V713.24" fill="none" stroke="#333333" stroke-width="3.1"/><path d="M508.38 605.54V652.16H533.22V605.54Z" fill="#808080" stroke="#333333" stroke-width="3.1" stroke-linejoin="miter"/><path d="M508.38 630.7H533.22" fill="none" stroke="#333333" stroke-width="6"/>
<text x="508.22" y="563.15" text-anchor="middle" font-family="'Liberation Sans', 'DejaVu Sans', sans-serif" font-size="25" font-weight="bold" letter-spacing="2.45" fill="#000">*</text>
<circle cx="566.81" cy="723.57" r="6.55" fill="#333" fill-opacity="0.5"/><circle cx="566.81" cy="728.2" r="6.55" fill="#333" fill-opacity="0.5"/><circle cx="566.81" cy="750.77" r="6.55" fill="#333" fill-opacity="0.5"/><path d="M566.81 604.62V575.2M566.81 652.16V716.01" fill="none" stroke="#333333" stroke-width="3.1"/><path d="M554.38 604.62V652.16H579.23V604.62Z" fill="#ffffff" stroke="#333333" stroke-width="3.1" stroke-linejoin="miter"/><path d="M554.38 629.4H579.23" fill="none" stroke="#333333" stroke-width="6"/>
<circle cx="594.41" cy="713.39" r="6.55" fill="#333" fill-opacity="0.5"/><circle cx="594.41" cy="723.38" r="6.55" fill="#333" fill-opacity="0.5"/><circle cx="594.41" cy="733.93" r="6.55" fill="#333" fill-opacity="0.5"/><circle cx="594.41" cy="760.2" r="6.55" fill="#333" fill-opacity="0.5"/><circle cx="594.41" cy="760.2" r="6.55" fill="#333" fill-opacity="0.5"/><path d="M594.41 597.22V575.2M594.41 641.43V685.49" fill="none" stroke="#333333" stroke-width="3.1"/><path d="M581.99 597.22V641.43H606.84V597.22Z" fill="#808080" stroke="#333333" stroke-width="3.1" stroke-linejoin="miter"/><path d="M581.99 617.75H606.84" fill="none" stroke="#333333" stroke-width="6"/>
<text x="580.51" y="568.05" text-anchor="middle" font-family="'Liberation Sans', 'DejaVu Sans', sans-serif" font-size="30.9" fill="#000" stroke="#000" stroke-width="0.25">ns</text>
<path d="M640.42 658.27V575.2M640.42 728.94V760.6" fill="none" stroke="#333333" stroke-width="3.1"/><path d="M628 658.27V728.94H652.84V658.27Z" fill="#ffffff" stroke="#333333" stroke-width="3.1" stroke-linejoin="miter"/><path d="M628 698.04H652.84" fill="none" stroke="#333333" stroke-width="6"/>
<circle cx="668.03" cy="757.98" r="6.55" fill="#333" fill-opacity="0.5"/><circle cx="668.03" cy="759.28" r="6.55" fill="#333" fill-opacity="0.5"/><circle cx="668.03" cy="759.46" r="6.55" fill="#333" fill-opacity="0.5"/><circle cx="668.03" cy="759.65" r="6.55" fill="#333" fill-opacity="0.5"/><circle cx="668.03" cy="760.57" r="6.55" fill="#333" fill-opacity="0.5"/><path d="M668.03 597.59V575.2M668.03 657.34V739.33" fill="none" stroke="#333333" stroke-width="3.1"/><path d="M655.61 597.59V657.34H680.45V597.59Z" fill="#808080" stroke="#333333" stroke-width="3.1" stroke-linejoin="miter"/><path d="M655.61 618.49H680.45" fill="none" stroke="#333333" stroke-width="6"/>
<text x="655.45" y="563.15" text-anchor="middle" font-family="'Liberation Sans', 'DejaVu Sans', sans-serif" font-size="25" font-weight="bold" letter-spacing="2.45" fill="#000">***</text>
<circle cx="714.04" cy="575.2" r="6.55" fill="#333" fill-opacity="0.5"/><circle cx="714.04" cy="575.2" r="6.55" fill="#333" fill-opacity="0.5"/><path d="M714.04 678.25V604.99M714.04 735.41V760.6" fill="none" stroke="#333333" stroke-width="3.1"/><path d="M701.61 678.25V735.41H726.46V678.25Z" fill="#ffffff" stroke="#333333" stroke-width="3.1" stroke-linejoin="miter"/><path d="M701.61 703.04H726.46" fill="none" stroke="#333333" stroke-width="6"/>
<path d="M741.64 632.18V575.94M741.64 725.79V760.6" fill="none" stroke="#333333" stroke-width="3.1"/><path d="M729.22 632.18V725.79H754.07V632.18Z" fill="#808080" stroke="#333333" stroke-width="3.1" stroke-linejoin="miter"/><path d="M729.22 677.5H754.07" fill="none" stroke="#333333" stroke-width="6"/>
<text x="729.06" y="563.15" text-anchor="middle" font-family="'Liberation Sans', 'DejaVu Sans', sans-serif" font-size="25" font-weight="bold" letter-spacing="2.45" fill="#000">***</text>
<rect x="95.35" y="537.75" width="675.85" height="232.05" fill="none" stroke="#000" stroke-width="1.9"/>
<path d="M86.75 760.2H94.65" stroke="#333333" stroke-width="2.85"/>
<text x="80.85" y="769.2" text-anchor="end" font-family="'Liberation Serif', 'DejaVu Serif', serif" font-size="25.4" fill="#4d4d4d">0</text>
<path d="M86.75 713.95H94.65" stroke="#333333" stroke-width="2.85"/>
<text x="80.85" y="722.95" text-anchor="end" font-family="'Liberation Serif', 'DejaVu Serif', serif" font-size="25.4" fill="#4d4d4d">25</text>
<path d="M86.75 667.7H94.65" stroke="#333333" stroke-width="2.85"/>
<text x="80.85" y="676.7" text-anchor="end" font-family="'Liberation Serif', 'DejaVu Serif', serif" font-size="25.4" fill="#4d4d4d">50</text>
<path d="M86.75 621.45H94.65" stroke="#333333" stroke-width="2.85"/>
<text x="80.85" y="630.45" text-anchor="end" font-family="'Liberation Serif', 'DejaVu Serif', serif" font-size="25.4" fill="#4d4d4d">75</text>
<path d="M86.75 575.2H94.65" stroke="#333333" stroke-width="2.85"/>
<text x="80.85" y="584.2" text-anchor="end" font-family="'Liberation Serif', 'DejaVu Serif', serif" font-size="25.4" fill="#4d4d4d">100</text>
<path d="M138.92 770.5V778.6" stroke="#333333" stroke-width="2.85"/>
<text transform="translate(138.72 785.1) rotate(45)" font-family="'Liberation Serif', 'DejaVu Serif', serif" font-size="25.4" fill="#4d4d4d">causality</text>
<path d="M212.53 770.5V778.6" stroke="#333333" stroke-width="2.85"/>
<text transform="translate(212.33 785.1) rotate(45)" font-family="'Liberation Serif', 'DejaVu Serif', serif" font-size="25.4" fill="#4d4d4d">speed</text>
<path d="M286.15 770.5V778.6" stroke="#333333" stroke-width="2.85"/>
<text transform="translate(285.95 785.1) rotate(45)" font-family="'Liberation Serif', 'DejaVu Serif', serif" font-size="25.4" fill="#4d4d4d">equifinality</text>
<path d="M359.76 770.5V778.6" stroke="#333333" stroke-width="2.85"/>
<text transform="translate(359.56 785.1) rotate(45)" font-family="'Liberation Serif', 'DejaVu Serif', serif" font-size="25.4" fill="#4d4d4d">efficiency</text>
<path d="M433.38 770.5V778.6" stroke="#333333" stroke-width="2.85"/>
<text transform="translate(433.18 785.1) rotate(45)" font-family="'Liberation Serif', 'DejaVu Serif', serif" font-size="25.4" fill="#4d4d4d">learning</text>
<path d="M507 770.5V778.6" stroke="#333333" stroke-width="2.85"/>
<text transform="translate(506.8 785.1) rotate(45)" font-family="'Liberation Serif', 'DejaVu Serif', serif" font-size="25.4" fill="#4d4d4d">context</text>
<path d="M580.61 770.5V778.6" stroke="#333333" stroke-width="2.85"/>
<text transform="translate(580.41 785.1) rotate(45)" font-family="'Liberation Serif', 'DejaVu Serif', serif" font-size="25.4" fill="#4d4d4d">social</text>
<path d="M654.22 770.5V778.6" stroke="#333333" stroke-width="2.85"/>
<text transform="translate(654.02 785.1) rotate(45)" font-family="'Liberation Serif', 'DejaVu Serif', serif" font-size="25.4" fill="#4d4d4d" font-weight="bold">attention</text>
<path d="M727.84 770.5V778.6" stroke="#333333" stroke-width="2.85"/>
<text transform="translate(727.64 785.1) rotate(45)" font-family="'Liberation Serif', 'DejaVu Serif', serif" font-size="25.4" fill="#4d4d4d">helping</text>
<text transform="translate(28.6 653.78) rotate(-90)" text-anchor="middle" font-family="'Liberation Serif', 'DejaVu Serif', serif" font-size="31" fill="#000">Rating</text>
<text x="20.7" y="529.95" font-family="'Liberation Serif', 'DejaVu Serif', serif" font-size="40" font-weight="bold" fill="#000">B</text>
</g>
<g id="B_right">
<rect x="838.3" y="489.55" width="628.1" height="48.2" fill="#d9d9d9"/>
<text x="1152.35" y="521.3" text-anchor="middle" font-family="'Liberation Serif', 'DejaVu Serif', serif" font-size="25.4" fill="#1a1a1a">Experiment 2: Selfhood−attribution</text>
<rect x="839" y="537.75" width="626.7" height="232.05" fill="#fff"/>
<path d="M863.86 628.66V575.2M863.86 696.38V760.6" fill="none" stroke="#333333" stroke-width="3.1"/><path d="M853.47 628.66V696.38H874.25V628.66Z" fill="#ffffff" stroke="#333333" stroke-width="3.1" stroke-linejoin="miter"/><path d="M853.47 657.53H874.25" fill="none" stroke="#333333" stroke-width="6"/>
<path d="M886.94 630.51V586.12M886.94 684.17V760.6" fill="none" stroke="#333333" stroke-width="3.1"/><path d="M876.55 630.51V684.17H897.33V630.51Z" fill="#808080" stroke="#333333" stroke-width="3.1" stroke-linejoin="miter"/><path d="M876.55 650.87H897.33" fill="none" stroke="#333333" stroke-width="6"/>
<text x="875.3" y="568.05" text-anchor="middle" font-family="'Liberation Sans', 'DejaVu Sans', sans-serif" font-size="30.9" fill="#000" stroke="#000" stroke-width="0.25">ns</text>
<path d="M925.41 701.19V618.68M925.41 760.2V760.2" fill="none" stroke="#333333" stroke-width="3.1"/><path d="M915.03 701.19V760.2H935.8V701.19Z" fill="#ffffff" stroke="#333333" stroke-width="3.1" stroke-linejoin="miter"/><path d="M915.03 754.1H935.8" fill="none" stroke="#333333" stroke-width="6"/>
<path d="M948.5 678.62V590.56M948.5 760.2V760.2" fill="none" stroke="#333333" stroke-width="3.1"/><path d="M938.11 678.62V760.2H958.89V678.62Z" fill="#808080" stroke="#333333" stroke-width="3.1" stroke-linejoin="miter"/><path d="M938.11 733.75H958.89" fill="none" stroke="#333333" stroke-width="6"/>
<text x="938.18" y="563.15" text-anchor="middle" font-family="'Liberation Sans', 'DejaVu Sans', sans-serif" font-size="25" font-weight="bold" letter-spacing="2.45" fill="#000">***</text>
<circle cx="986.97" cy="575.2" r="6.55" fill="#333" fill-opacity="0.5"/><path d="M986.97 671.59V603.69M986.97 729.31V760.6" fill="none" stroke="#333333" stroke-width="3.1"/><path d="M976.58 671.59V729.31H997.36V671.59Z" fill="#ffffff" stroke="#333333" stroke-width="3.1" stroke-linejoin="miter"/><path d="M976.58 699.34H997.36" fill="none" stroke="#333333" stroke-width="6"/>
<path d="M1010.05 654.01V587.41M1010.05 723.57V760.6" fill="none" stroke="#333333" stroke-width="3.1"/><path d="M999.67 654.01V723.57H1020.44V654.01Z" fill="#808080" stroke="#333333" stroke-width="3.1" stroke-linejoin="miter"/><path d="M999.67 685.46H1020.44" fill="none" stroke="#333333" stroke-width="6"/>
<text x="999.73" y="563.15" text-anchor="middle" font-family="'Liberation Sans', 'DejaVu Sans', sans-serif" font-size="25" font-weight="bold" letter-spacing="2.45" fill="#000">**</text>
<circle cx="1048.53" cy="598.51" r="6.55" fill="#333" fill-opacity="0.5"/><circle cx="1048.53" cy="601.47" r="6.55" fill="#333" fill-opacity="0.5"/><circle cx="1048.53" cy="755.76" r="6.55" fill="#333" fill-opacity="0.5"/><path d="M1048.53 651.61V612.2M1048.53 686.38V732.85" fill="none" stroke="#333333" stroke-width="3.1"/><path d="M1038.14 651.61V686.38H1058.91V651.61Z" fill="#ffffff" stroke="#333333" stroke-width="3.1" stroke-linejoin="miter"/><path d="M1038.14 665.85H1058.91" fill="none" stroke="#333333" stroke-width="6"/>
<path d="M1071.61 634.77V586.67M1071.61 671.59V723.6" fill="none" stroke="#333333" stroke-width="3.1"/><path d="M1061.22 634.77V671.59H1082V634.77Z" fill="#808080" stroke="#333333" stroke-width="3.1" stroke-linejoin="miter"/><path d="M1061.22 651.61H1082" fill="none" stroke="#333333" stroke-width="6"/>
<text x="1061.29" y="563.15" text-anchor="middle" font-family="'Liberation Sans', 'DejaVu Sans', sans-serif" font-size="25" font-weight="bold" letter-spacing="2.45" fill="#000">***</text>
<circle cx="1110.08" cy="575.2" r="6.55" fill="#333" fill-opacity="0.5"/><circle cx="1110.08" cy="606.84" r="6.55" fill="#333" fill-opacity="0.5"/><circle cx="1110.08" cy="721.54" r="6.55" fill="#333" fill-opacity="0.5"/><circle cx="1110.08" cy="725.24" r="6.55" fill="#333" fill-opacity="0.5"/><circle cx="1110.08" cy="733" r="6.55" fill="#333" fill-opacity="0.5"/><circle cx="1110.08" cy="734.86" r="6.55" fill="#333" fill-opacity="0.5"/><circle cx="1110.08" cy="740.22" r="6.55" fill="#333" fill-opacity="0.5"/><circle cx="1110.08" cy="749.1" r="6.55" fill="#333" fill-opacity="0.5"/><path d="M1110.08 650.68V621.08M1110.08 676.77V714.35" fill="none" stroke="#333333" stroke-width="3.1" stroke-dasharray="6.2 5.8"/><path d="M1099.69 650.68V676.77H1120.47V650.68Z" fill="#ffffff" stroke="#333333" stroke-width="3.1" stroke-linejoin="miter" stroke-dasharray="6.2 5.8"/><path d="M1099.69 666.04H1120.47" fill="none" stroke="#333333" stroke-width="6" stroke-dasharray="12.2 11.8"/>
<circle cx="1133.17" cy="751.5" r="6.55" fill="#333" fill-opacity="0.5"/><path d="M1133.17 618.68V576.68M1133.17 663.26V713.61" fill="none" stroke="#333333" stroke-width="3.1" stroke-dasharray="6.2 5.8"/><path d="M1122.78 618.68V663.26H1143.55V618.68Z" fill="#808080" stroke="#333333" stroke-width="3.1" stroke-linejoin="miter" stroke-dasharray="6.2 5.8"/><path d="M1122.78 642.54H1143.55" fill="none" stroke="#333333" stroke-width="6" stroke-dasharray="12.2 11.8"/>
<text x="1122.85" y="563.15" text-anchor="middle" font-family="'Liberation Sans', 'DejaVu Sans', sans-serif" font-size="25" font-weight="bold" letter-spacing="2.45" fill="#000">***</text>
<circle cx="1171.64" cy="575.2" r="6.55" fill="#333" fill-opacity="0.5"/><circle cx="1171.64" cy="580.29" r="6.55" fill="#333" fill-opacity="0.5"/><circle cx="1171.64" cy="726.25" r="6.55" fill="#333" fill-opacity="0.5"/><circle cx="1171.64" cy="727.73" r="6.55" fill="#333" fill-opacity="0.5"/><circle cx="1171.64" cy="737.54" r="6.55" fill="#333" fill-opacity="0.5"/><circle cx="1171.64" cy="740.68" r="6.55" fill="#333" fill-opacity="0.5"/><path d="M1171.64 636.53V593.42M1171.64 672.79V721.1" fill="none" stroke="#333333" stroke-width="3.1"/><path d="M1161.25 636.53V672.79H1182.03V636.53Z" fill="#ffffff" stroke="#333333" stroke-width="3.1" stroke-linejoin="miter"/><path d="M1161.25 658.54H1182.03" fill="none" stroke="#333333" stroke-width="6"/>
<circle cx="1194.72" cy="739.94" r="6.55" fill="#333" fill-opacity="0.5"/><path d="M1194.72 612.29V575.2M1194.72 657.43V722.4" fill="none" stroke="#333333" stroke-width="3.1"/><path d="M1184.33 612.29V657.43H1205.11V612.29Z" fill="#808080" stroke="#333333" stroke-width="3.1" stroke-linejoin="miter"/><path d="M1184.33 638.75H1205.11" fill="none" stroke="#333333" stroke-width="6"/>
<text x="1184.4" y="563.15" text-anchor="middle" font-family="'Liberation Sans', 'DejaVu Sans', sans-serif" font-size="25" font-weight="bold" letter-spacing="2.45" fill="#000">***</text>
<circle cx="1233.19" cy="575.2" r="6.55" fill="#333" fill-opacity="0.5"/><circle cx="1233.19" cy="593.42" r="6.55" fill="#333" fill-opacity="0.5"/><circle cx="1233.19" cy="719.96" r="6.55" fill="#333" fill-opacity="0.5"/><circle cx="1233.19" cy="721.81" r="6.55" fill="#333" fill-opacity="0.5"/><circle cx="1233.19" cy="727.55" r="6.55" fill="#333" fill-opacity="0.5"/><circle cx="1233.19" cy="729.03" r="6.55" fill="#333" fill-opacity="0.5"/><circle cx="1233.19" cy="744.94" r="6.55" fill="#333" fill-opacity="0.5"/><path d="M1233.19 646.7V617.84M1233.19 671.86V698.53" fill="none" stroke="#333333" stroke-width="3.1" stroke-dasharray="6.2 5.8"/><path d="M1222.81 646.7V671.86H1243.58V646.7Z" fill="#ffffff" stroke="#333333" stroke-width="3.1" stroke-linejoin="miter" stroke-dasharray="6.2 5.8"/><path d="M1222.81 665.57H1243.58" fill="none" stroke="#333333" stroke-width="6" stroke-dasharray="12.2 11.8"/>
<circle cx="1256.28" cy="596.57" r="6.55" fill="#333" fill-opacity="0.5"/><circle cx="1256.28" cy="601.19" r="6.55" fill="#333" fill-opacity="0.5"/><circle cx="1256.28" cy="709.42" r="6.55" fill="#333" fill-opacity="0.5"/><circle cx="1256.28" cy="714.04" r="6.55" fill="#333" fill-opacity="0.5"/><circle cx="1256.28" cy="729.95" r="6.55" fill="#333" fill-opacity="0.5"/><path d="M1256.28 643V613.59M1256.28 669.27V699.83" fill="none" stroke="#333333" stroke-width="3.1" stroke-dasharray="6.2 5.8"/><path d="M1245.89 643V669.27H1266.67V643Z" fill="#808080" stroke="#333333" stroke-width="3.1" stroke-linejoin="miter" stroke-dasharray="6.2 5.8"/><path d="M1245.89 662.24H1266.67" fill="none" stroke="#333333" stroke-width="6" stroke-dasharray="12.2 11.8"/>
<text x="1244.64" y="568.05" text-anchor="middle" font-family="'Liberation Sans', 'DejaVu Sans', sans-serif" font-size="30.9" fill="#000" stroke="#000" stroke-width="0.25">ns</text>
<path d="M1294.75 697.39V629.5M1294.75 757.52V760.6" fill="none" stroke="#333333" stroke-width="3.1"/><path d="M1284.36 697.39V757.52H1305.14V697.39Z" fill="#ffffff" stroke="#333333" stroke-width="3.1" stroke-linejoin="miter"/><path d="M1284.36 729.95H1305.14" fill="none" stroke="#333333" stroke-width="6"/>
<path d="M1317.83 667.98V594.9M1317.83 744.2V760.6" fill="none" stroke="#333333" stroke-width="3.1"/><path d="M1307.45 667.98V744.2H1328.22V667.98Z" fill="#808080" stroke="#333333" stroke-width="3.1" stroke-linejoin="miter"/><path d="M1307.45 708.68H1328.22" fill="none" stroke="#333333" stroke-width="6"/>
<text x="1307.51" y="563.15" text-anchor="middle" font-family="'Liberation Sans', 'DejaVu Sans', sans-serif" font-size="25" font-weight="bold" letter-spacing="2.45" fill="#000">***</text>
<path d="M1356.31 624.69V575.2M1356.31 682.78V754.4" fill="none" stroke="#333333" stroke-width="3.1"/><path d="M1345.92 624.69V682.78H1366.69V624.69Z" fill="#ffffff" stroke="#333333" stroke-width="3.1" stroke-linejoin="miter"/><path d="M1345.92 654.84H1366.69" fill="none" stroke="#333333" stroke-width="6"/>
<circle cx="1379.39" cy="734.39" r="6.55" fill="#333" fill-opacity="0.5"/><circle cx="1379.39" cy="760.2" r="6.55" fill="#333" fill-opacity="0.5"/><path d="M1379.39 612.11V575.2M1379.39 658.54V714.81" fill="none" stroke="#333333" stroke-width="3.1"/><path d="M1369 612.11V658.54H1389.78V612.11Z" fill="#808080" stroke="#333333" stroke-width="3.1" stroke-linejoin="miter"/><path d="M1369 629.13H1389.78" fill="none" stroke="#333333" stroke-width="6"/>
<text x="1369.07" y="563.15" text-anchor="middle" font-family="'Liberation Sans', 'DejaVu Sans', sans-serif" font-size="25" font-weight="bold" letter-spacing="2.45" fill="#000">***</text>
<circle cx="1417.86" cy="599.53" r="6.55" fill="#333" fill-opacity="0.5"/><path d="M1417.86 690.92V618.21M1417.86 743.46V760.6" fill="none" stroke="#333333" stroke-width="3.1"/><path d="M1407.47 690.92V743.46H1428.25V690.92Z" fill="#ffffff" stroke="#333333" stroke-width="3.1" stroke-linejoin="miter"/><path d="M1407.47 722H1428.25" fill="none" stroke="#333333" stroke-width="6"/>
<path d="M1440.95 708.68V666.87M1440.95 753.08V760.6" fill="none" stroke="#333333" stroke-width="3.1"/><path d="M1430.56 708.68V753.08H1451.33V708.68Z" fill="#808080" stroke="#333333" stroke-width="3.1" stroke-linejoin="miter"/><path d="M1430.56 730.69H1451.33" fill="none" stroke="#333333" stroke-width="6"/>
<text x="1430.63" y="563.15" text-anchor="middle" font-family="'Liberation Sans', 'DejaVu Sans', sans-serif" font-size="25" font-weight="bold" letter-spacing="2.45" fill="#000">**</text>
<rect x="839" y="537.75" width="626.7" height="232.05" fill="none" stroke="#000" stroke-width="1.9"/>
<path d="M830.4 760.2H838.3" stroke="#333333" stroke-width="2.85"/>
<text x="824.5" y="769.2" text-anchor="end" font-family="'Liberation Serif', 'DejaVu Serif', serif" font-size="25.4" fill="#4d4d4d">0</text>
<path d="M830.4 713.95H838.3" stroke="#333333" stroke-width="2.85"/>
<text x="824.5" y="722.95" text-anchor="end" font-family="'Liberation Serif', 'DejaVu Serif', serif" font-size="25.4" fill="#4d4d4d">25</text>
<path d="M830.4 667.7H838.3" stroke="#333333" stroke-width="2.85"/>
<text x="824.5" y="676.7" text-anchor="end" font-family="'Liberation Serif', 'DejaVu Serif', serif" font-size="25.4" fill="#4d4d4d">50</text>
<path d="M830.4 621.45H838.3" stroke="#333333" stroke-width="2.85"/>
<text x="824.5" y="630.45" text-anchor="end" font-family="'Liberation Serif', 'DejaVu Serif', serif" font-size="25.4" fill="#4d4d4d">75</text>
<path d="M830.4 575.2H838.3" stroke="#333333" stroke-width="2.85"/>
<text x="824.5" y="584.2" text-anchor="end" font-family="'Liberation Serif', 'DejaVu Serif', serif" font-size="25.4" fill="#4d4d4d">100</text>
<path d="M875.4 770.5V778.6" stroke="#333333" stroke-width="2.85"/>
<text transform="translate(875.2 785.1) rotate(45)" font-family="'Liberation Serif', 'DejaVu Serif', serif" font-size="25.4" fill="#4d4d4d">agency</text>
<path d="M936.96 770.5V778.6" stroke="#333333" stroke-width="2.85"/>
<text transform="translate(936.76 785.1) rotate(45)" font-family="'Liberation Serif', 'DejaVu Serif', serif" font-size="25.4" fill="#4d4d4d">experience</text>
<path d="M998.51 770.5V778.6" stroke="#333333" stroke-width="2.85"/>
<text transform="translate(998.31 785.1) rotate(45)" font-family="'Liberation Serif', 'DejaVu Serif', serif" font-size="25.4" fill="#4d4d4d">anthropomorphism</text>
<path d="M1060.07 770.5V778.6" stroke="#333333" stroke-width="2.85"/>
<text transform="translate(1059.87 785.1) rotate(45)" font-family="'Liberation Serif', 'DejaVu Serif', serif" font-size="25.4" fill="#4d4d4d">animacy</text>
<path d="M1121.62 770.5V778.6" stroke="#333333" stroke-width="2.85"/>
<text transform="translate(1121.42 785.1) rotate(45)" font-family="'Liberation Serif', 'DejaVu Serif', serif" font-size="25.4" fill="#4d4d4d">likeability</text>
<path d="M1183.18 770.5V778.6" stroke="#333333" stroke-width="2.85"/>
<text transform="translate(1182.98 785.1) rotate(45)" font-family="'Liberation Serif', 'DejaVu Serif', serif" font-size="25.4" fill="#4d4d4d">intelligence</text>
<path d="M1244.74 770.5V778.6" stroke="#333333" stroke-width="2.85"/>
<text transform="translate(1244.54 785.1) rotate(45)" font-family="'Liberation Serif', 'DejaVu Serif', serif" font-size="25.4" fill="#4d4d4d">safety</text>
<path d="M1306.29 770.5V778.6" stroke="#333333" stroke-width="2.85"/>
<text transform="translate(1306.09 785.1) rotate(45)" font-family="'Liberation Serif', 'DejaVu Serif', serif" font-size="25.4" fill="#4d4d4d">warmth</text>
<path d="M1367.85 770.5V778.6" stroke="#333333" stroke-width="2.85"/>
<text transform="translate(1367.65 785.1) rotate(45)" font-family="'Liberation Serif', 'DejaVu Serif', serif" font-size="25.4" fill="#4d4d4d">competence</text>
<path d="M1429.4 770.5V778.6" stroke="#333333" stroke-width="2.85"/>
<text transform="translate(1429.2 785.1) rotate(45)" font-family="'Liberation Serif', 'DejaVu Serif', serif" font-size="25.4" fill="#4d4d4d">discomfort</text>
</g>
<g id="C_left">
<rect x="94.65" y="973.15" width="677.25" height="48.2" fill="#d9d9d9"/>
<text x="433.28" y="1004.9" text-anchor="middle" font-family="'Liberation Serif', 'DejaVu Serif', serif" font-size="25.4" fill="#1a1a1a">Experiment 3: Behavioral Characteristics</text>
<rect x="95.35" y="1021.35" width="675.85" height="232.05" fill="#fff"/>
<circle cx="125.12" cy="1222.89" r="6.55" fill="#333" fill-opacity="0.5"/><path d="M125.12 1081V1058.8M125.12 1135.02V1192.03" fill="none" stroke="#333333" stroke-width="3.1"/><path d="M112.69 1081V1135.02H137.54V1081Z" fill="#ffffff" stroke="#333333" stroke-width="3.1" stroke-linejoin="miter"/><path d="M112.69 1108.93H137.54" fill="none" stroke="#333333" stroke-width="6"/>
<path d="M152.72 1076.19V1058.8M152.72 1124.47V1189.81" fill="none" stroke="#333333" stroke-width="3.1"/><path d="M140.3 1076.19V1124.47H165.15V1076.19Z" fill="#808080" stroke="#333333" stroke-width="3.1" stroke-linejoin="miter"/><path d="M140.3 1096.36H165.15" fill="none" stroke="#333333" stroke-width="6"/>
<text x="140.14" y="1046.75" text-anchor="middle" font-family="'Liberation Sans', 'DejaVu Sans', sans-serif" font-size="25" font-weight="bold" letter-spacing="2.45" fill="#000">*</text>
<circle cx="198.73" cy="1194.4" r="6.55" fill="#333" fill-opacity="0.5"/><circle cx="198.73" cy="1200.88" r="6.55" fill="#333" fill-opacity="0.5"/><circle cx="198.73" cy="1213.83" r="6.55" fill="#333" fill-opacity="0.5"/><circle cx="198.73" cy="1243.8" r="6.55" fill="#333" fill-opacity="0.5"/><path d="M198.73 1122.99V1083.03M198.73 1151.48V1193.14" fill="none" stroke="#333333" stroke-width="3.1"/><path d="M186.31 1122.99V1151.48H211.15V1122.99Z" fill="#ffffff" stroke="#333333" stroke-width="3.1" stroke-linejoin="miter"/><path d="M186.31 1136.5H211.15" fill="none" stroke="#333333" stroke-width="6"/>
<circle cx="226.34" cy="1202.55" r="6.55" fill="#333" fill-opacity="0.5"/><circle cx="226.34" cy="1205.32" r="6.55" fill="#333" fill-opacity="0.5"/><circle cx="226.34" cy="1210.32" r="6.55" fill="#333" fill-opacity="0.5"/><circle cx="226.34" cy="1242.13" r="6.55" fill="#333" fill-opacity="0.5"/><path d="M226.34 1119.66V1079.7M226.34 1152.96V1192.4" fill="none" stroke="#333333" stroke-width="3.1"/><path d="M213.92 1119.66V1152.96H238.76V1119.66Z" fill="#808080" stroke="#333333" stroke-width="3.1" stroke-linejoin="miter"/><path d="M213.92 1135.76H238.76" fill="none" stroke="#333333" stroke-width="6"/>
<text x="212.43" y="1051.65" text-anchor="middle" font-family="'Liberation Sans', 'DejaVu Sans', sans-serif" font-size="30.9" fill="#000" stroke="#000" stroke-width="0.25">ns</text>
<circle cx="272.35" cy="1213.09" r="6.55" fill="#333" fill-opacity="0.5"/><path d="M272.35 1080.63V1058.8M272.35 1129.47V1182.97" fill="none" stroke="#333333" stroke-width="3.1"/><path d="M259.92 1080.63V1129.47H284.77V1080.63Z" fill="#ffffff" stroke="#333333" stroke-width="3.1" stroke-linejoin="miter"/><path d="M259.92 1107.64H284.77" fill="none" stroke="#333333" stroke-width="6"/>
<path d="M299.95 1080.08V1058.8M299.95 1122.44V1182.97" fill="none" stroke="#333333" stroke-width="3.1"/><path d="M287.53 1080.08V1122.44H312.38V1080.08Z" fill="#808080" stroke="#333333" stroke-width="3.1" stroke-linejoin="miter"/><path d="M287.53 1098.02H312.38" fill="none" stroke="#333333" stroke-width="6"/>
<text x="287.37" y="1046.75" text-anchor="middle" font-family="'Liberation Sans', 'DejaVu Sans', sans-serif" font-size="25" font-weight="bold" letter-spacing="2.45" fill="#000">*</text>
<path d="M345.96 1086.73V1058.8M345.96 1140.01V1208.5" fill="none" stroke="#333333" stroke-width="3.1"/><path d="M333.54 1086.73V1140.01H358.38V1086.73Z" fill="#ffffff" stroke="#333333" stroke-width="3.1" stroke-linejoin="miter"/><path d="M333.54 1112.45H358.38" fill="none" stroke="#333333" stroke-width="6"/>
<circle cx="373.57" cy="1243.8" r="6.55" fill="#333" fill-opacity="0.5"/><path d="M373.57 1089.33V1058.8M373.57 1133.36V1181.49" fill="none" stroke="#333333" stroke-width="3.1"/><path d="M361.15 1089.33V1133.36H385.99V1089.33Z" fill="#808080" stroke="#333333" stroke-width="3.1" stroke-linejoin="miter"/><path d="M361.15 1113.38H385.99" fill="none" stroke="#333333" stroke-width="6"/>
<text x="359.66" y="1051.65" text-anchor="middle" font-family="'Liberation Sans', 'DejaVu Sans', sans-serif" font-size="30.9" fill="#000" stroke="#000" stroke-width="0.25">ns</text>
<path d="M419.58 1130.76V1073.04M419.58 1178.49V1244.2" fill="none" stroke="#333333" stroke-width="3.1"/><path d="M407.15 1130.76V1178.49H432V1130.76Z" fill="#ffffff" stroke="#333333" stroke-width="3.1" stroke-linejoin="miter"/><path d="M407.15 1148.89H432" fill="none" stroke="#333333" stroke-width="6"/>
<circle cx="447.18" cy="1243.8" r="6.55" fill="#333" fill-opacity="0.5"/><circle cx="447.18" cy="1243.8" r="6.55" fill="#333" fill-opacity="0.5"/><path d="M447.18 1123.73V1070.45M447.18 1167.02V1220.89" fill="none" stroke="#333333" stroke-width="3.1"/><path d="M434.76 1123.73V1167.02H459.61V1123.73Z" fill="#808080" stroke="#333333" stroke-width="3.1" stroke-linejoin="miter"/><path d="M434.76 1140.75H459.61" fill="none" stroke="#333333" stroke-width="6"/>
<text x="433.28" y="1051.65" text-anchor="middle" font-family="'Liberation Sans', 'DejaVu Sans', sans-serif" font-size="30.9" fill="#000" stroke="#000" stroke-width="0.25">ns</text>
<circle cx="493.19" cy="1058.8" r="6.55" fill="#333" fill-opacity="0.5"/><circle cx="493.19" cy="1211.42" r="6.55" fill="#333" fill-opacity="0.5"/><circle cx="493.19" cy="1229.74" r="6.55" fill="#333" fill-opacity="0.5"/><circle cx="493.19" cy="1235.29" r="6.55" fill="#333" fill-opacity="0.5"/><path d="M493.19 1113.56V1073.97M493.19 1148.52V1196.29" fill="none" stroke="#333333" stroke-width="3.1"/><path d="M480.77 1113.56V1148.52H505.61V1113.56Z" fill="#ffffff" stroke="#333333" stroke-width="3.1" stroke-linejoin="miter"/><path d="M480.77 1132.24H505.61" fill="none" stroke="#333333" stroke-width="6"/>
<circle cx="520.8" cy="1197.37" r="6.55" fill="#333" fill-opacity="0.5"/><path d="M520.8 1098.76V1061.94M520.8 1135.39V1178.15" fill="none" stroke="#333333" stroke-width="3.1"/><path d="M508.38 1098.76V1135.39H533.22V1098.76Z" fill="#808080" stroke="#333333" stroke-width="3.1" stroke-linejoin="miter"/><path d="M508.38 1116.89H533.22" fill="none" stroke="#333333" stroke-width="6"/>
<text x="508.22" y="1046.75" text-anchor="middle" font-family="'Liberation Sans', 'DejaVu Sans', sans-serif" font-size="25" font-weight="bold" letter-spacing="2.45" fill="#000">***</text>
<path d="M566.81 1135.02V1082.11M566.81 1191.82V1244.2" fill="none" stroke="#333333" stroke-width="3.1"/><path d="M554.38 1135.02V1191.82H579.23V1135.02Z" fill="#ffffff" stroke="#333333" stroke-width="3.1" stroke-linejoin="miter"/><path d="M554.38 1159.07H579.23" fill="none" stroke="#333333" stroke-width="6"/>
<circle cx="594.41" cy="1237.88" r="6.55" fill="#333" fill-opacity="0.5"/><circle cx="594.41" cy="1243.8" r="6.55" fill="#333" fill-opacity="0.5"/><path d="M594.41 1108.19V1058.8M594.41 1152.04V1216.63" fill="none" stroke="#333333" stroke-width="3.1"/><path d="M581.99 1108.19V1152.04H606.84V1108.19Z" fill="#808080" stroke="#333333" stroke-width="3.1" stroke-linejoin="miter"/><path d="M581.99 1128.17H606.84" fill="none" stroke="#333333" stroke-width="6"/>
<text x="581.83" y="1046.75" text-anchor="middle" font-family="'Liberation Sans', 'DejaVu Sans', sans-serif" font-size="25" font-weight="bold" letter-spacing="2.45" fill="#000">***</text>
<path d="M640.42 1145.75V1098.39M640.42 1209.39V1244.2" fill="none" stroke="#333333" stroke-width="3.1"/><path d="M628 1145.75V1209.39H652.84V1145.75Z" fill="#ffffff" stroke="#333333" stroke-width="3.1" stroke-linejoin="miter"/><path d="M628 1167.02H652.84" fill="none" stroke="#333333" stroke-width="6"/>
<circle cx="668.03" cy="1058.8" r="6.55" fill="#333" fill-opacity="0.5"/><circle cx="668.03" cy="1063.05" r="6.55" fill="#333" fill-opacity="0.5"/><circle cx="668.03" cy="1222.71" r="6.55" fill="#333" fill-opacity="0.5"/><circle cx="668.03" cy="1233.99" r="6.55" fill="#333" fill-opacity="0.5"/><circle cx="668.03" cy="1243.8" r="6.55" fill="#333" fill-opacity="0.5"/><path d="M668.03 1130.39V1079.52M668.03 1166.28V1210.72" fill="none" stroke="#333333" stroke-width="3.1"/><path d="M655.61 1130.39V1166.28H680.45V1130.39Z" fill="#808080" stroke="#333333" stroke-width="3.1" stroke-linejoin="miter"/><path d="M655.61 1147.05H680.45" fill="none" stroke="#333333" stroke-width="6"/>
<text x="655.45" y="1046.75" text-anchor="middle" font-family="'Liberation Sans', 'DejaVu Sans', sans-serif" font-size="25" font-weight="bold" letter-spacing="2.45" fill="#000">***</text>
<path d="M714.04 1140.38V1068.97M714.04 1217.16V1244.2" fill="none" stroke="#333333" stroke-width="3.1"/><path d="M701.61 1140.38V1217.16H726.46V1140.38Z" fill="#ffffff" stroke="#333333" stroke-width="3.1" stroke-linejoin="miter"/><path d="M701.61 1170.54H726.46" fill="none" stroke="#333333" stroke-width="6"/>
<path d="M741.64 1086.73V1058.8M741.64 1163.69V1244.2" fill="none" stroke="#333333" stroke-width="3.1"/><path d="M729.22 1086.73V1163.69H754.07V1086.73Z" fill="#808080" stroke="#333333" stroke-width="3.1" stroke-linejoin="miter"/><path d="M729.22 1123.37H754.07" fill="none" stroke="#333333" stroke-width="6"/>
<text x="729.06" y="1046.75" text-anchor="middle" font-family="'Liberation Sans', 'DejaVu Sans', sans-serif" font-size="25" font-weight="bold" letter-spacing="2.45" fill="#000">***</text>
<rect x="95.35" y="1021.35" width="675.85" height="232.05" fill="none" stroke="#000" stroke-width="1.9"/>
<path d="M86.75 1243.8H94.65" stroke="#333333" stroke-width="2.85"/>
<text x="80.85" y="1252.8" text-anchor="end" font-family="'Liberation Serif', 'DejaVu Serif', serif" font-size="25.4" fill="#4d4d4d">0</text>
<path d="M86.75 1197.55H94.65" stroke="#333333" stroke-width="2.85"/>
<text x="80.85" y="1206.55" text-anchor="end" font-family="'Liberation Serif', 'DejaVu Serif', serif" font-size="25.4" fill="#4d4d4d">25</text>
<path d="M86.75 1151.3H94.65" stroke="#333333" stroke-width="2.85"/>
<text x="80.85" y="1160.3" text-anchor="end" font-family="'Liberation Serif', 'DejaVu Serif', serif" font-size="25.4" fill="#4d4d4d">50</text>
<path d="M86.75 1105.05H94.65" stroke="#333333" stroke-width="2.85"/>
<text x="80.85" y="1114.05" text-anchor="end" font-family="'Liberation Serif', 'DejaVu Serif', serif" font-size="25.4" fill="#4d4d4d">75</text>
<path d="M86.75 1058.8H94.65" stroke="#333333" stroke-width="2.85"/>
<text x="80.85" y="1067.8" text-anchor="end" font-family="'Liberation Serif', 'DejaVu Serif', serif" font-size="25.4" fill="#4d4d4d">100</text>
<path d="M138.92 1254.1V1262.2" stroke="#333333" stroke-width="2.85"/>
<text transform="translate(138.72 1268.7) rotate(45)" font-family="'Liberation Serif', 'DejaVu Serif', serif" font-size="25.4" fill="#4d4d4d">causality</text>
<path d="M212.53 1254.1V1262.2" stroke="#333333" stroke-width="2.85"/>
<text transform="translate(212.33 1268.7) rotate(45)" font-family="'Liberation Serif', 'DejaVu Serif', serif" font-size="25.4" fill="#4d4d4d">speed</text>
<path d="M286.15 1254.1V1262.2" stroke="#333333" stroke-width="2.85"/>
<text transform="translate(285.95 1268.7) rotate(45)" font-family="'Liberation Serif', 'DejaVu Serif', serif" font-size="25.4" fill="#4d4d4d">equifinality</text>
<path d="M359.76 1254.1V1262.2" stroke="#333333" stroke-width="2.85"/>
<text transform="translate(359.56 1268.7) rotate(45)" font-family="'Liberation Serif', 'DejaVu Serif', serif" font-size="25.4" fill="#4d4d4d">efficiency</text>
<path d="M433.38 1254.1V1262.2" stroke="#333333" stroke-width="2.85"/>
<text transform="translate(433.18 1268.7) rotate(45)" font-family="'Liberation Serif', 'DejaVu Serif', serif" font-size="25.4" fill="#4d4d4d">learning</text>
<path d="M507 1254.1V1262.2" stroke="#333333" stroke-width="2.85"/>
<text transform="translate(506.8 1268.7) rotate(45)" font-family="'Liberation Serif', 'DejaVu Serif', serif" font-size="25.4" fill="#4d4d4d">context</text>
<path d="M580.61 1254.1V1262.2" stroke="#333333" stroke-width="2.85"/>
<text transform="translate(580.41 1268.7) rotate(45)" font-family="'Liberation Serif', 'DejaVu Serif', serif" font-size="25.4" fill="#4d4d4d">social</text>
<path d="M654.22 1254.1V1262.2" stroke="#333333" stroke-width="2.85"/>
<text transform="translate(654.02 1268.7) rotate(45)" font-family="'Liberation Serif', 'DejaVu Serif', serif" font-size="25.4" fill="#4d4d4d">attention</text>
<path d="M727.84 1254.1V1262.2" stroke="#333333" stroke-width="2.85"/>
<text transform="translate(727.64 1268.7) rotate(45)" font-family="'Liberation Serif', 'DejaVu Serif', serif" font-size="25.4" fill="#4d4d4d" font-weight="bold">helping</text>
<text transform="translate(28.6 1137.38) rotate(-90)" text-anchor="middle" font-family="'Liberation Serif', 'DejaVu Serif', serif" font-size="31" fill="#000">Rating</text>
<text x="20.7" y="1013.5" font-family="'Liberation Serif', 'DejaVu Serif', serif" font-size="40" font-weight="bold" fill="#000">C</text>
</g>
<g id="C_right">
<rect x="838.3" y="973.15" width="628.1" height="48.2" fill="#d9d9d9"/>
<text x="1152.35" y="1004.9" text-anchor="middle" font-family="'Liberation Serif', 'DejaVu Serif', serif" font-size="25.4" fill="#1a1a1a">Experiment 3: Selfhood−attribution</text>
<rect x="839" y="1021.35" width="626.7" height="232.05" fill="#fff"/>
<circle cx="863.86" cy="1234.37" r="6.55" fill="#333" fill-opacity="0.5"/><path d="M863.86 1126.51V1073.41M863.86 1169.98V1229.22" fill="none" stroke="#333333" stroke-width="3.1"/><path d="M853.47 1126.51V1169.98H874.25V1126.51Z" fill="#ffffff" stroke="#333333" stroke-width="3.1" stroke-linejoin="miter"/><path d="M853.47 1145.57H874.25" fill="none" stroke="#333333" stroke-width="6"/>
<circle cx="886.94" cy="1213.46" r="6.55" fill="#333" fill-opacity="0.5"/><path d="M886.94 1113.74V1067.12M886.94 1151.12V1201.1" fill="none" stroke="#333333" stroke-width="3.1"/><path d="M876.55 1113.74V1151.12H897.33V1113.74Z" fill="#808080" stroke="#333333" stroke-width="3.1" stroke-linejoin="miter"/><path d="M876.55 1134.1H897.33" fill="none" stroke="#333333" stroke-width="6"/>
<text x="876.62" y="1046.75" text-anchor="middle" font-family="'Liberation Sans', 'DejaVu Sans', sans-serif" font-size="25" font-weight="bold" letter-spacing="2.45" fill="#000">***</text>
<path d="M925.41 1184.23V1109.49M925.41 1243.8V1243.8" fill="none" stroke="#333333" stroke-width="3.1"/><path d="M915.03 1184.23V1243.8H935.8V1184.23Z" fill="#ffffff" stroke="#333333" stroke-width="3.1" stroke-linejoin="miter"/><path d="M915.03 1229H935.8" fill="none" stroke="#333333" stroke-width="6"/>
<path d="M948.5 1162.21V1086.73M948.5 1243.8V1243.8" fill="none" stroke="#333333" stroke-width="3.1"/><path d="M938.11 1162.21V1243.8H958.89V1162.21Z" fill="#808080" stroke="#333333" stroke-width="3.1" stroke-linejoin="miter"/><path d="M938.11 1213.09H958.89" fill="none" stroke="#333333" stroke-width="6"/>
<text x="938.18" y="1046.75" text-anchor="middle" font-family="'Liberation Sans', 'DejaVu Sans', sans-serif" font-size="25" font-weight="bold" letter-spacing="2.45" fill="#000">***</text>
<path d="M986.97 1155.37V1105.97M986.97 1200.69V1244.2" fill="none" stroke="#333333" stroke-width="3.1"/><path d="M976.58 1155.37V1200.69H997.36V1155.37Z" fill="#ffffff" stroke="#333333" stroke-width="3.1" stroke-linejoin="miter"/><path d="M976.58 1174.24H997.36" fill="none" stroke="#333333" stroke-width="6"/>
<circle cx="1010.05" cy="1065.09" r="6.55" fill="#333" fill-opacity="0.5"/><circle cx="1010.05" cy="1242.13" r="6.55" fill="#333" fill-opacity="0.5"/><circle cx="1010.05" cy="1243.8" r="6.55" fill="#333" fill-opacity="0.5"/><path d="M1010.05 1130.76V1083.22M1010.05 1175.35V1217.75" fill="none" stroke="#333333" stroke-width="3.1"/><path d="M999.67 1130.76V1175.35H1020.44V1130.76Z" fill="#808080" stroke="#333333" stroke-width="3.1" stroke-linejoin="miter"/><path d="M999.67 1155.92H1020.44" fill="none" stroke="#333333" stroke-width="6"/>
<text x="999.73" y="1046.75" text-anchor="middle" font-family="'Liberation Sans', 'DejaVu Sans', sans-serif" font-size="25" font-weight="bold" letter-spacing="2.45" fill="#000">***</text>
<circle cx="1048.53" cy="1243.8" r="6.55" fill="#333" fill-opacity="0.5"/><path d="M1048.53 1137.61V1113.56M1048.53 1169.62V1210.72" fill="none" stroke="#333333" stroke-width="3.1"/><path d="M1038.14 1137.61V1169.62H1058.91V1137.61Z" fill="#ffffff" stroke="#333333" stroke-width="3.1" stroke-linejoin="miter"/><path d="M1038.14 1152.78H1058.91" fill="none" stroke="#333333" stroke-width="6"/>
<circle cx="1071.61" cy="1226.22" r="6.55" fill="#333" fill-opacity="0.5"/><path d="M1071.61 1114.3V1076M1071.61 1150V1182.04" fill="none" stroke="#333333" stroke-width="3.1"/><path d="M1061.22 1114.3V1150H1082V1114.3Z" fill="#808080" stroke="#333333" stroke-width="3.1" stroke-linejoin="miter"/><path d="M1061.22 1136.32H1082" fill="none" stroke="#333333" stroke-width="6"/>
<text x="1061.29" y="1046.75" text-anchor="middle" font-family="'Liberation Sans', 'DejaVu Sans', sans-serif" font-size="25" font-weight="bold" letter-spacing="2.45" fill="#000">***</text>
<circle cx="1110.08" cy="1095.24" r="6.55" fill="#333" fill-opacity="0.5"/><circle cx="1110.08" cy="1192" r="6.55" fill="#333" fill-opacity="0.5"/><circle cx="1110.08" cy="1193.48" r="6.55" fill="#333" fill-opacity="0.5"/><circle cx="1110.08" cy="1198.66" r="6.55" fill="#333" fill-opacity="0.5"/><circle cx="1110.08" cy="1200.14" r="6.55" fill="#333" fill-opacity="0.5"/><circle cx="1110.08" cy="1206.24" r="6.55" fill="#333" fill-opacity="0.5"/><circle cx="1110.08" cy="1214.2" r="6.55" fill="#333" fill-opacity="0.5"/><circle cx="1110.08" cy="1215.68" r="6.55" fill="#333" fill-opacity="0.5"/><path d="M1110.08 1131.88V1100.98M1110.08 1155.37V1186.66" fill="none" stroke="#333333" stroke-width="3.1" stroke-dasharray="6.2 5.8"/><path d="M1099.69 1131.88V1155.37H1120.47V1131.88Z" fill="#ffffff" stroke="#333333" stroke-width="3.1" stroke-linejoin="miter" stroke-dasharray="6.2 5.8"/><path d="M1099.69 1144.09H1120.47" fill="none" stroke="#333333" stroke-width="6" stroke-dasharray="12.2 11.8"/>
<path d="M1133.17 1097.28V1058.8M1133.17 1136.5V1176.12" fill="none" stroke="#333333" stroke-width="3.1" stroke-dasharray="6.2 5.8"/><path d="M1122.78 1097.28V1136.5H1143.55V1097.28Z" fill="#808080" stroke="#333333" stroke-width="3.1" stroke-linejoin="miter" stroke-dasharray="6.2 5.8"/><path d="M1122.78 1122.99H1143.55" fill="none" stroke="#333333" stroke-width="6" stroke-dasharray="12.2 11.8"/>
<text x="1122.85" y="1046.75" text-anchor="middle" font-family="'Liberation Sans', 'DejaVu Sans', sans-serif" font-size="25" font-weight="bold" letter-spacing="2.45" fill="#000">***</text>
<circle cx="1171.64" cy="1210.5" r="6.55" fill="#333" fill-opacity="0.5"/><circle cx="1171.64" cy="1223.82" r="6.55" fill="#333" fill-opacity="0.5"/><path d="M1171.64 1114.48V1074.15M1171.64 1153.34V1182.04" fill="none" stroke="#333333" stroke-width="3.1"/><path d="M1161.25 1114.48V1153.34H1182.03V1114.48Z" fill="#ffffff" stroke="#333333" stroke-width="3.1" stroke-linejoin="miter"/><path d="M1161.25 1133.54H1182.03" fill="none" stroke="#333333" stroke-width="6"/>
<circle cx="1194.72" cy="1197.92" r="6.55" fill="#333" fill-opacity="0.5"/><path d="M1194.72 1080.44V1058.98M1194.72 1122.07V1173.53" fill="none" stroke="#333333" stroke-width="3.1"/><path d="M1184.33 1080.44V1122.07H1205.11V1080.44Z" fill="#808080" stroke="#333333" stroke-width="3.1" stroke-linejoin="miter"/><path d="M1184.33 1110.05H1205.11" fill="none" stroke="#333333" stroke-width="6"/>
<text x="1184.4" y="1046.75" text-anchor="middle" font-family="'Liberation Sans', 'DejaVu Sans', sans-serif" font-size="25" font-weight="bold" letter-spacing="2.45" fill="#000">***</text>
<circle cx="1233.19" cy="1210.32" r="6.55" fill="#333" fill-opacity="0.5"/><circle cx="1233.19" cy="1221.23" r="6.55" fill="#333" fill-opacity="0.5"/><path d="M1233.19 1123.55V1093.39M1233.19 1151.12V1189.62" fill="none" stroke="#333333" stroke-width="3.1" stroke-dasharray="6.2 5.8"/><path d="M1222.81 1123.55V1151.12H1243.58V1123.55Z" fill="#ffffff" stroke="#333333" stroke-width="3.1" stroke-linejoin="miter" stroke-dasharray="6.2 5.8"/><path d="M1222.81 1142.79H1243.58" fill="none" stroke="#333333" stroke-width="6" stroke-dasharray="12.2 11.8"/>
<path d="M1256.28 1111.52V1074.15M1256.28 1147.41V1185.37" fill="none" stroke="#333333" stroke-width="3.1" stroke-dasharray="6.2 5.8"/><path d="M1245.89 1111.52V1147.41H1266.67V1111.52Z" fill="#808080" stroke="#333333" stroke-width="3.1" stroke-linejoin="miter" stroke-dasharray="6.2 5.8"/><path d="M1245.89 1132.98H1266.67" fill="none" stroke="#333333" stroke-width="6" stroke-dasharray="12.2 11.8"/>
<text x="1245.96" y="1046.75" text-anchor="middle" font-family="'Liberation Sans', 'DejaVu Sans', sans-serif" font-size="25" font-weight="bold" letter-spacing="2.45" fill="#000">**</text>
<path d="M1294.75 1176.46V1131.5M1294.75 1238.25V1244.2" fill="none" stroke="#333333" stroke-width="3.1"/><path d="M1284.36 1176.46V1238.25H1305.14V1176.46Z" fill="#ffffff" stroke="#333333" stroke-width="3.1" stroke-linejoin="miter"/><path d="M1284.36 1205.69H1305.14" fill="none" stroke="#333333" stroke-width="6"/>
<path d="M1317.83 1146.12V1079.89M1317.83 1216.23V1244.2" fill="none" stroke="#333333" stroke-width="3.1"/><path d="M1307.45 1146.12V1216.23H1328.22V1146.12Z" fill="#808080" stroke="#333333" stroke-width="3.1" stroke-linejoin="miter"/><path d="M1307.45 1177.38H1328.22" fill="none" stroke="#333333" stroke-width="6"/>
<text x="1307.51" y="1046.75" text-anchor="middle" font-family="'Liberation Sans', 'DejaVu Sans', sans-serif" font-size="25" font-weight="bold" letter-spacing="2.45" fill="#000">***</text>
<path d="M1356.31 1111.15V1058.8M1356.31 1164.8V1227.18" fill="none" stroke="#333333" stroke-width="3.1"/><path d="M1345.92 1111.15V1164.8H1366.69V1111.15Z" fill="#ffffff" stroke="#333333" stroke-width="3.1" stroke-linejoin="miter"/><path d="M1345.92 1136.13H1366.69" fill="none" stroke="#333333" stroke-width="6"/>
<path d="M1379.39 1080.63V1058.8M1379.39 1124.85V1173.35" fill="none" stroke="#333333" stroke-width="3.1"/><path d="M1369 1080.63V1124.85H1389.78V1080.63Z" fill="#808080" stroke="#333333" stroke-width="3.1" stroke-linejoin="miter"/><path d="M1369 1103.38H1389.78" fill="none" stroke="#333333" stroke-width="6"/>
<text x="1369.07" y="1046.75" text-anchor="middle" font-family="'Liberation Sans', 'DejaVu Sans', sans-serif" font-size="25" font-weight="bold" letter-spacing="2.45" fill="#000">***</text>
<circle cx="1417.86" cy="1106.53" r="6.55" fill="#333" fill-opacity="0.5"/><circle cx="1417.86" cy="1106.53" r="6.55" fill="#333" fill-opacity="0.5"/><path d="M1417.86 1179.61V1117.81M1417.86 1222.34V1244.2" fill="none" stroke="#333333" stroke-width="3.1"/><path d="M1407.47 1179.61V1222.34H1428.25V1179.61Z" fill="#ffffff" stroke="#333333" stroke-width="3.1" stroke-linejoin="miter"/><path d="M1407.47 1206.24H1428.25" fill="none" stroke="#333333" stroke-width="6"/>
<path d="M1440.95 1194.4V1151.3M1440.95 1234.37V1244.2" fill="none" stroke="#333333" stroke-width="3.1"/><path d="M1430.56 1194.4V1234.37H1451.33V1194.4Z" fill="#808080" stroke="#333333" stroke-width="3.1" stroke-linejoin="miter"/><path d="M1430.56 1214.57H1451.33" fill="none" stroke="#333333" stroke-width="6"/>
<text x="1430.63" y="1046.75" text-anchor="middle" font-family="'Liberation Sans', 'DejaVu Sans', sans-serif" font-size="25" font-weight="bold" letter-spacing="2.45" fill="#000">***</text>
<rect x="839" y="1021.35" width="626.7" height="232.05" fill="none" stroke="#000" stroke-width="1.9"/>
<path d="M830.4 1243.8H838.3" stroke="#333333" stroke-width="2.85"/>
<text x="824.5" y="1252.8" text-anchor="end" font-family="'Liberation Serif', 'DejaVu Serif', serif" font-size="25.4" fill="#4d4d4d">0</text>
<path d="M830.4 1197.55H838.3" stroke="#333333" stroke-width="2.85"/>
<text x="824.5" y="1206.55" text-anchor="end" font-family="'Liberation Serif', 'DejaVu Serif', serif" font-size="25.4" fill="#4d4d4d">25</text>
<path d="M830.4 1151.3H838.3" stroke="#333333" stroke-width="2.85"/>
<text x="824.5" y="1160.3" text-anchor="end" font-family="'Liberation Serif', 'DejaVu Serif', serif" font-size="25.4" fill="#4d4d4d">50</text>
<path d="M830.4 1105.05H838.3" stroke="#333333" stroke-width="2.85"/>
<text x="824.5" y="1114.05" text-anchor="end" font-family="'Liberation Serif', 'DejaVu Serif', serif" font-size="25.4" fill="#4d4d4d">75</text>
<path d="M830.4 1058.8H838.3" stroke="#333333" stroke-width="2.85"/>
<text x="824.5" y="1067.8" text-anchor="end" font-family="'Liberation Serif', 'DejaVu Serif', serif" font-size="25.4" fill="#4d4d4d">100</text>
<path d="M875.4 1254.1V1262.2" stroke="#333333" stroke-width="2.85"/>
<text transform="translate(875.2 1268.7) rotate(45)" font-family="'Liberation Serif', 'DejaVu Serif', serif" font-size="25.4" fill="#4d4d4d">agency</text>
<path d="M936.96 1254.1V1262.2" stroke="#333333" stroke-width="2.85"/>
<text transform="translate(936.76 1268.7) rotate(45)" font-family="'Liberation Serif', 'DejaVu Serif', serif" font-size="25.4" fill="#4d4d4d">experience</text>
<path d="M998.51 1254.1V1262.2" stroke="#333333" stroke-width="2.85"/>
<text transform="translate(998.31 1268.7) rotate(45)" font-family="'Liberation Serif', 'DejaVu Serif', serif" font-size="25.4" fill="#4d4d4d">anthropomorphism</text>
<path d="M1060.07 1254.1V1262.2" stroke="#333333" stroke-width="2.85"/>
<text transform="translate(1059.87 1268.7) rotate(45)" font-family="'Liberation Serif', 'DejaVu Serif', serif" font-size="25.4" fill="#4d4d4d">animacy</text>
<path d="M1121.62 1254.1V1262.2" stroke="#333333" stroke-width="2.85"/>
<text transform="translate(1121.42 1268.7) rotate(45)" font-family="'Liberation Serif', 'DejaVu Serif', serif" font-size="25.4" fill="#4d4d4d">likeability</text>
<path d="M1183.18 1254.1V1262.2" stroke="#333333" stroke-width="2.85"/>
<text transform="translate(1182.98 1268.7) rotate(45)" font-family="'Liberation Serif', 'DejaVu Serif', serif" font-size="25.4" fill="#4d4d4d">intelligence</text>
<path d="M1244.74 1254.1V1262.2" stroke="#333333" stroke-width="2.85"/>
<text transform="translate(1244.54 1268.7) rotate(45)" font-family="'Liberation Serif', 'DejaVu Serif', serif" font-size="25.4" fill="#4d4d4d">safety</text>
<path d="M1306.29 1254.1V1262.2" stroke="#333333" stroke-width="2.85"/>
<text transform="translate(1306.09 1268.7) rotate(45)" font-family="'Liberation Serif', 'DejaVu Serif', serif" font-size="25.4" fill="#4d4d4d">warmth</text>
<path d="M1367.85 1254.1V1262.2" stroke="#333333" stroke-width="2.85"/>
<text transform="translate(1367.65 1268.7) rotate(45)" font-family="'Liberation Serif', 'DejaVu Serif', serif" font-size="25.4" fill="#4d4d4d">competence</text>
<path d="M1429.4 1254.1V1262.2" stroke="#333333" stroke-width="2.85"/>
<text transform="translate(1429.2 1268.7) rotate(45)" font-family="'Liberation Serif', 'DejaVu Serif', serif" font-size="25.4" fill="#4d4d4d">discomfort</text>
</g>
<text x="433.4" y="1451.2" text-anchor="middle" font-family="'Liberation Serif', 'DejaVu Serif', serif" font-size="31" fill="#000">Characteristic</text>
<text x="1152.6" y="1451.2" text-anchor="middle" font-family="'Liberation Serif', 'DejaVu Serif', serif" font-size="31" fill="#000">Subscale</text>
<text x="567" y="1507" font-family="'Liberation Serif', 'DejaVu Serif', serif" font-size="31" fill="#000">Cue−presence:</text>
<rect x="763" y="1472.2" width="48.8" height="48.6" fill="#f2f2f2"/>
<path d="M787.4 1477.1V1484.4M787.4 1508.7V1516" stroke="#333333" stroke-width="3.1" fill="none"/>
<rect x="769.3" y="1484.4" width="36.2" height="24.3" fill="#ffffff" stroke="#333333" stroke-width="3.1"/>
<path d="M769.3 1496.5H805.5" stroke="#333333" stroke-width="3.1" fill="none"/>
<text x="827.2" y="1505.3" font-family="'Liberation Serif', 'DejaVu Serif', serif" font-size="25.4" fill="#000">C −</text>
<rect x="875" y="1472.2" width="48.8" height="48.6" fill="#f2f2f2"/>
<path d="M899.4 1477.1V1484.4M899.4 1508.7V1516" stroke="#333333" stroke-width="3.1" fill="none"/>
<rect x="881.3" y="1484.4" width="36.2" height="24.3" fill="#808080" stroke="#333333" stroke-width="3.1"/>
<path d="M881.3 1496.5H917.5" stroke="#333333" stroke-width="3.1" fill="none"/>
<text x="939" y="1505.3" font-family="'Liberation Serif', 'DejaVu Serif', serif" font-size="25.4" fill="#000">C +</text></svg>
</body></html>
